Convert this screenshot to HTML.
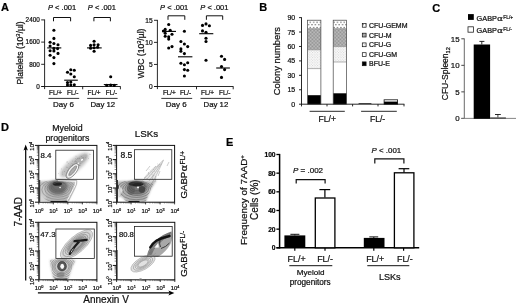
<!DOCTYPE html>
<html><head><meta charset="utf-8"><title>Figure</title>
<style>
html,body{margin:0;padding:0;background:#fff;}
body{width:520px;height:307px;overflow:hidden;}
svg{display:block;font-family:"Liberation Sans",Arial,sans-serif;}
text{stroke:#111;stroke-width:0.22px;}
</style></head><body>
<svg width="520" height="307" viewBox="0 0 520 307">
<rect width="520" height="307" fill="#fff"/>
<defs>
<pattern id="pGemm" width="3.4" height="5.2" patternUnits="userSpaceOnUse"><rect width="3.4" height="5.2" fill="#fff"/><rect x="0.1" y="0.9" width="1.6" height="1.0" fill="#6e6e6e"/><rect x="1.8" y="3.5" width="1.6" height="1.0" fill="#6e6e6e"/></pattern>
<pattern id="pM" width="1.4" height="1.4" patternUnits="userSpaceOnUse"><rect width="1.4" height="1.4" fill="#c4c4c4"/><rect width="0.7" height="0.7" fill="#8c8c8c"/><rect x="0.7" y="0.7" width="0.7" height="0.7" fill="#8c8c8c"/></pattern>
<pattern id="pG" width="2.6" height="2.6" patternUnits="userSpaceOnUse"><rect width="2.6" height="2.6" fill="#fbfbfb"/><rect x="0.2" y="0.2" width="0.8" height="0.8" fill="#bdbdbd"/><rect x="1.5" y="1.5" width="0.8" height="0.8" fill="#bdbdbd"/></pattern>
<filter id="b1" x="-30%" y="-30%" width="160%" height="160%"><feGaussianBlur stdDeviation="0.7"/></filter>
<filter id="b15" x="-30%" y="-30%" width="160%" height="160%"><feGaussianBlur stdDeviation="1.1"/></filter>
<filter id="b2" x="-30%" y="-30%" width="160%" height="160%"><feGaussianBlur stdDeviation="1.6"/></filter>
<clipPath id="c1"><rect x="38.8" y="145.4" width="58.10" height="56.80"/></clipPath>
<clipPath id="c2"><rect x="116.6" y="145.4" width="58.00" height="56.80"/></clipPath>
<clipPath id="c3"><rect x="38.8" y="222.3" width="58.10" height="57.50"/></clipPath>
<clipPath id="c4"><rect x="116.6" y="222.3" width="58.20" height="57.50"/></clipPath>
<clipPath id="k1"><path d="M39 181.5 L57 180.3 L76.5 181 L74 188.5 L67.5 202 L47.5 202 L40 193Z"/></clipPath><clipPath id="k2"><path d="M117 181.6 L136 180.6 L147 181 L156.5 180 L151 189 L145.5 202 L127 202 L121 196 L117 197Z"/></clipPath><clipPath id="k3"><path d="M49.8 260 L62 258.6 L75.6 260 L72 268 L68.2 279.5 L53.5 279.5 L51 268Z"/></clipPath></defs>
<text x="0.90" y="10.90" font-size="11.0" text-anchor="start" font-weight="bold" font-style="normal" fill="#000">A</text>
<text x="259.30" y="11.40" font-size="11.0" text-anchor="start" font-weight="bold" font-style="normal" fill="#000">B</text>
<text x="432.20" y="11.80" font-size="11.0" text-anchor="start" font-weight="bold" font-style="normal" fill="#000">C</text>
<text x="1.10" y="130.60" font-size="11.0" text-anchor="start" font-weight="bold" font-style="normal" fill="#000">D</text>
<text x="225.90" y="145.90" font-size="11.0" text-anchor="start" font-weight="bold" font-style="normal" fill="#000">E</text>
<line x1="44.60" y1="19.50" x2="44.60" y2="89.10" stroke="#111" stroke-width="0.9"/>
<line x1="41.20" y1="86.50" x2="44.60" y2="86.50" stroke="#111" stroke-width="0.9"/>
<text x="39.80" y="88.70" font-size="6.4" text-anchor="end" font-weight="normal" font-style="normal" fill="#111">0</text>
<line x1="41.20" y1="64.30" x2="44.60" y2="64.30" stroke="#111" stroke-width="0.9"/>
<text x="39.80" y="66.50" font-size="6.4" text-anchor="end" font-weight="normal" font-style="normal" fill="#111">800</text>
<line x1="41.20" y1="42.10" x2="44.60" y2="42.10" stroke="#111" stroke-width="0.9"/>
<text x="39.80" y="44.30" font-size="6.4" text-anchor="end" font-weight="normal" font-style="normal" fill="#111">1600</text>
<line x1="41.20" y1="19.90" x2="44.60" y2="19.90" stroke="#111" stroke-width="0.9"/>
<text x="39.80" y="22.10" font-size="6.4" text-anchor="end" font-weight="normal" font-style="normal" fill="#111">2400</text>
<line x1="41.40" y1="86.50" x2="120.60" y2="86.50" stroke="#111" stroke-width="0.9"/>
<line x1="82.70" y1="86.50" x2="82.70" y2="89.30" stroke="#111" stroke-width="0.9"/>
<line x1="120.40" y1="86.50" x2="120.40" y2="89.30" stroke="#111" stroke-width="0.9"/>
<text x="22.60" y="84.40" font-size="8.6" text-anchor="start" font-weight="normal" font-style="normal" fill="#111" transform="rotate(-90 22.60 84.40)">Platelets (10<tspan font-size="5.6" dy="-2.9">3</tspan><tspan dy="2.9">/µl)</tspan></text>
<text x="48.00" y="10.10" font-size="7.5" fill="#111"><tspan font-style="italic">P</tspan> &lt; .001</text>
<path d="M53.50 21.30V17.50H70.60V21.30" fill="none" stroke="#111" stroke-width="1.0"/>
<text x="87.80" y="10.10" font-size="7.5" fill="#111"><tspan font-style="italic">P</tspan> &lt; .001</text>
<path d="M93.90 21.30V17.50H110.40V21.30" fill="none" stroke="#111" stroke-width="1.0"/>
<circle cx="53.90" cy="30.30" r="1.55" fill="#000"/>
<circle cx="53.90" cy="38.40" r="1.55" fill="#000"/>
<circle cx="50.10" cy="42.20" r="1.55" fill="#000"/>
<circle cx="53.90" cy="43.50" r="1.55" fill="#000"/>
<circle cx="58.00" cy="44.70" r="1.55" fill="#000"/>
<circle cx="50.10" cy="46.00" r="1.55" fill="#000"/>
<circle cx="53.90" cy="48.40" r="1.55" fill="#000"/>
<circle cx="50.10" cy="50.80" r="1.55" fill="#000"/>
<circle cx="53.90" cy="50.90" r="1.55" fill="#000"/>
<circle cx="58.00" cy="53.40" r="1.55" fill="#000"/>
<circle cx="50.10" cy="55.30" r="1.55" fill="#000"/>
<circle cx="53.90" cy="57.60" r="1.55" fill="#000"/>
<circle cx="53.90" cy="63.60" r="1.55" fill="#000"/>
<circle cx="57.60" cy="48.60" r="1.55" fill="#000"/>
<line x1="47.20" y1="47.90" x2="61.30" y2="47.90" stroke="#000" stroke-width="1.1"/>
<circle cx="70.80" cy="69.70" r="1.55" fill="#000"/>
<circle cx="74.30" cy="70.20" r="1.55" fill="#000"/>
<circle cx="67.50" cy="72.20" r="1.55" fill="#000"/>
<circle cx="70.80" cy="74.00" r="1.55" fill="#000"/>
<circle cx="74.30" cy="76.80" r="1.55" fill="#000"/>
<circle cx="67.50" cy="82.60" r="1.55" fill="#000"/>
<circle cx="70.80" cy="82.10" r="1.55" fill="#000"/>
<circle cx="67.50" cy="85.00" r="1.55" fill="#000"/>
<circle cx="70.80" cy="85.00" r="1.55" fill="#000"/>
<circle cx="74.30" cy="84.80" r="1.55" fill="#000"/>
<line x1="64.20" y1="80.20" x2="77.80" y2="80.20" stroke="#000" stroke-width="1.1"/>
<circle cx="94.10" cy="41.20" r="1.55" fill="#000"/>
<circle cx="90.60" cy="45.40" r="1.55" fill="#000"/>
<circle cx="94.10" cy="44.70" r="1.55" fill="#000"/>
<circle cx="98.10" cy="44.70" r="1.55" fill="#000"/>
<circle cx="90.60" cy="48.20" r="1.55" fill="#000"/>
<circle cx="94.10" cy="47.70" r="1.55" fill="#000"/>
<circle cx="94.10" cy="51.30" r="1.55" fill="#000"/>
<circle cx="97.60" cy="47.20" r="1.55" fill="#000"/>
<line x1="87.00" y1="47.90" x2="101.70" y2="47.90" stroke="#000" stroke-width="1.1"/>
<circle cx="110.70" cy="76.80" r="1.55" fill="#000"/>
<circle cx="106.80" cy="85.40" r="1.55" fill="#000"/>
<circle cx="110.70" cy="85.10" r="1.55" fill="#000"/>
<circle cx="114.20" cy="85.40" r="1.55" fill="#000"/>
<line x1="103.80" y1="84.60" x2="117.50" y2="84.60" stroke="#000" stroke-width="1.1"/>
<text x="49.00" y="95.00" font-size="6.4" text-anchor="start" font-weight="normal" font-style="normal" fill="#111">FL/+</text>
<text x="67.00" y="95.00" font-size="6.4" text-anchor="start" font-weight="normal" font-style="normal" fill="#111">FL/-</text>
<text x="87.60" y="95.00" font-size="6.4" text-anchor="start" font-weight="normal" font-style="normal" fill="#111">FL/+</text>
<text x="105.80" y="95.00" font-size="6.4" text-anchor="start" font-weight="normal" font-style="normal" fill="#111">FL/-</text>
<line x1="48.40" y1="98.40" x2="79.20" y2="98.40" stroke="#000" stroke-width="0.8"/>
<line x1="87.20" y1="98.40" x2="117.60" y2="98.40" stroke="#000" stroke-width="0.8"/>
<text x="63.40" y="107.10" font-size="8.0" text-anchor="middle" font-weight="normal" font-style="normal" fill="#111">Day 6</text>
<text x="102.80" y="107.10" font-size="7.8" text-anchor="middle" font-weight="normal" font-style="normal" fill="#111">Day 12</text>
<line x1="157.40" y1="19.90" x2="157.40" y2="89.10" stroke="#111" stroke-width="0.9"/>
<line x1="154.00" y1="86.50" x2="157.40" y2="86.50" stroke="#111" stroke-width="0.9"/>
<text x="152.60" y="88.80" font-size="6.6" text-anchor="end" font-weight="normal" font-style="normal" fill="#111">0</text>
<line x1="154.00" y1="64.43" x2="157.40" y2="64.43" stroke="#111" stroke-width="0.9"/>
<text x="152.60" y="66.73" font-size="6.6" text-anchor="end" font-weight="normal" font-style="normal" fill="#111">5</text>
<line x1="154.00" y1="42.37" x2="157.40" y2="42.37" stroke="#111" stroke-width="0.9"/>
<text x="152.60" y="44.67" font-size="6.6" text-anchor="end" font-weight="normal" font-style="normal" fill="#111">10</text>
<line x1="154.00" y1="20.30" x2="157.40" y2="20.30" stroke="#111" stroke-width="0.9"/>
<text x="152.60" y="22.60" font-size="6.6" text-anchor="end" font-weight="normal" font-style="normal" fill="#111">15</text>
<line x1="154.20" y1="86.50" x2="233.40" y2="86.50" stroke="#111" stroke-width="0.9"/>
<line x1="196.50" y1="86.50" x2="196.50" y2="89.30" stroke="#111" stroke-width="0.9"/>
<line x1="233.20" y1="86.50" x2="233.20" y2="89.30" stroke="#111" stroke-width="0.9"/>
<text x="143.70" y="78.60" font-size="8.6" text-anchor="start" font-weight="normal" font-style="normal" fill="#111" transform="rotate(-90 143.70 78.60)">WBC (10<tspan font-size="5.6" dy="-2.9">3</tspan><tspan dy="2.9">/µl)</tspan></text>
<text x="160.10" y="10.10" font-size="7.5" fill="#111"><tspan font-style="italic">P</tspan> &lt; .001</text>
<path d="M168.00 19.80V15.80H184.80V19.80" fill="none" stroke="#111" stroke-width="1.0"/>
<text x="200.30" y="10.10" font-size="7.5" fill="#111"><tspan font-style="italic">P</tspan> &lt; .001</text>
<path d="M206.40 19.80V15.80H222.70V19.80" fill="none" stroke="#111" stroke-width="1.0"/>
<circle cx="168.70" cy="24.50" r="1.55" fill="#000"/>
<circle cx="165.20" cy="29.40" r="1.55" fill="#000"/>
<circle cx="170.20" cy="30.20" r="1.55" fill="#000"/>
<circle cx="165.20" cy="33.30" r="1.55" fill="#000"/>
<circle cx="172.00" cy="34.20" r="1.55" fill="#000"/>
<circle cx="165.20" cy="36.20" r="1.55" fill="#000"/>
<circle cx="168.70" cy="36.80" r="1.55" fill="#000"/>
<circle cx="168.70" cy="39.10" r="1.55" fill="#000"/>
<circle cx="168.70" cy="48.00" r="1.55" fill="#000"/>
<circle cx="172.00" cy="46.60" r="1.55" fill="#000"/>
<circle cx="163.40" cy="31.00" r="1.55" fill="#000"/>
<line x1="162.30" y1="31.40" x2="176.00" y2="31.40" stroke="#000" stroke-width="1.1"/>
<circle cx="184.40" cy="31.30" r="1.55" fill="#000"/>
<circle cx="180.90" cy="41.50" r="1.55" fill="#000"/>
<circle cx="184.40" cy="44.00" r="1.55" fill="#000"/>
<circle cx="187.70" cy="46.60" r="1.55" fill="#000"/>
<circle cx="180.90" cy="48.90" r="1.55" fill="#000"/>
<circle cx="180.90" cy="51.20" r="1.55" fill="#000"/>
<circle cx="184.40" cy="53.60" r="1.55" fill="#000"/>
<circle cx="180.90" cy="63.30" r="1.55" fill="#000"/>
<circle cx="187.70" cy="62.70" r="1.55" fill="#000"/>
<circle cx="184.40" cy="64.70" r="1.55" fill="#000"/>
<circle cx="184.40" cy="69.60" r="1.55" fill="#000"/>
<circle cx="187.70" cy="70.20" r="1.55" fill="#000"/>
<circle cx="184.40" cy="76.00" r="1.55" fill="#000"/>
<line x1="178.00" y1="56.80" x2="192.40" y2="56.80" stroke="#000" stroke-width="1.1"/>
<circle cx="202.50" cy="25.40" r="1.55" fill="#000"/>
<circle cx="206.00" cy="23.90" r="1.55" fill="#000"/>
<circle cx="209.40" cy="25.80" r="1.55" fill="#000"/>
<circle cx="202.50" cy="30.90" r="1.55" fill="#000"/>
<circle cx="206.00" cy="32.30" r="1.55" fill="#000"/>
<circle cx="206.00" cy="38.20" r="1.55" fill="#000"/>
<circle cx="206.00" cy="41.50" r="1.55" fill="#000"/>
<circle cx="206.00" cy="60.20" r="1.55" fill="#000"/>
<line x1="199.20" y1="33.70" x2="213.30" y2="33.70" stroke="#000" stroke-width="1.1"/>
<circle cx="221.50" cy="56.30" r="1.55" fill="#000"/>
<circle cx="224.60" cy="59.40" r="1.55" fill="#000"/>
<circle cx="221.50" cy="66.60" r="1.55" fill="#000"/>
<circle cx="224.60" cy="69.60" r="1.55" fill="#000"/>
<circle cx="221.50" cy="77.40" r="1.55" fill="#000"/>
<line x1="216.20" y1="68.00" x2="229.90" y2="68.00" stroke="#000" stroke-width="1.1"/>
<text x="162.90" y="95.00" font-size="6.4" text-anchor="start" font-weight="normal" font-style="normal" fill="#111">FL/+</text>
<text x="179.90" y="95.00" font-size="6.4" text-anchor="start" font-weight="normal" font-style="normal" fill="#111">FL/-</text>
<text x="201.10" y="95.00" font-size="6.4" text-anchor="start" font-weight="normal" font-style="normal" fill="#111">FL/+</text>
<text x="219.10" y="95.00" font-size="6.4" text-anchor="start" font-weight="normal" font-style="normal" fill="#111">FL/-</text>
<line x1="161.30" y1="98.40" x2="192.20" y2="98.40" stroke="#000" stroke-width="0.8"/>
<line x1="200.50" y1="98.40" x2="230.90" y2="98.40" stroke="#000" stroke-width="0.8"/>
<text x="176.20" y="107.10" font-size="8.0" text-anchor="middle" font-weight="normal" font-style="normal" fill="#111">Day 6</text>
<text x="215.90" y="107.10" font-size="7.8" text-anchor="middle" font-weight="normal" font-style="normal" fill="#111">Day 12</text>
<line x1="301.50" y1="17.30" x2="301.50" y2="106.40" stroke="#111" stroke-width="0.9"/>
<line x1="299.00" y1="104.20" x2="301.50" y2="104.20" stroke="#111" stroke-width="0.9"/>
<text x="295.20" y="106.70" font-size="7" text-anchor="end" font-weight="normal" font-style="normal" fill="#111" stroke="#111" stroke-width="0.25">0</text>
<line x1="299.00" y1="89.77" x2="301.50" y2="89.77" stroke="#111" stroke-width="0.9"/>
<text x="295.20" y="92.27" font-size="7" text-anchor="end" font-weight="normal" font-style="normal" fill="#111" stroke="#111" stroke-width="0.25">15</text>
<line x1="299.00" y1="75.33" x2="301.50" y2="75.33" stroke="#111" stroke-width="0.9"/>
<text x="295.20" y="77.83" font-size="7" text-anchor="end" font-weight="normal" font-style="normal" fill="#111" stroke="#111" stroke-width="0.25">30</text>
<line x1="299.00" y1="60.90" x2="301.50" y2="60.90" stroke="#111" stroke-width="0.9"/>
<text x="295.20" y="63.40" font-size="7" text-anchor="end" font-weight="normal" font-style="normal" fill="#111" stroke="#111" stroke-width="0.25">45</text>
<line x1="299.00" y1="46.47" x2="301.50" y2="46.47" stroke="#111" stroke-width="0.9"/>
<text x="295.20" y="48.97" font-size="7" text-anchor="end" font-weight="normal" font-style="normal" fill="#111" stroke="#111" stroke-width="0.25">60</text>
<line x1="299.00" y1="32.03" x2="301.50" y2="32.03" stroke="#111" stroke-width="0.9"/>
<text x="295.20" y="34.53" font-size="7" text-anchor="end" font-weight="normal" font-style="normal" fill="#111" stroke="#111" stroke-width="0.25">75</text>
<line x1="299.00" y1="17.60" x2="301.50" y2="17.60" stroke="#111" stroke-width="0.9"/>
<text x="295.20" y="20.10" font-size="7" text-anchor="end" font-weight="normal" font-style="normal" fill="#111" stroke="#111" stroke-width="0.25">90</text>
<line x1="301.50" y1="104.20" x2="404.40" y2="104.20" stroke="#111" stroke-width="0.9"/>
<line x1="327.00" y1="104.20" x2="327.00" y2="106.40" stroke="#111" stroke-width="0.9"/>
<line x1="352.60" y1="104.20" x2="352.60" y2="106.40" stroke="#111" stroke-width="0.9"/>
<line x1="378.00" y1="104.20" x2="378.00" y2="106.40" stroke="#111" stroke-width="0.9"/>
<line x1="404.00" y1="104.20" x2="404.00" y2="106.40" stroke="#111" stroke-width="0.9"/>
<text x="280.20" y="95.30" font-size="9.4" text-anchor="start" font-weight="normal" font-style="normal" fill="#111" transform="rotate(-90 280.20 95.30)">Colony numbers</text>
<rect x="307.6" y="20.2" width="13.30" height="8.50" fill="url(#pGemm)"/>
<rect x="307.6" y="28.7" width="13.30" height="21.10" fill="url(#pM)"/>
<rect x="307.6" y="49.8" width="13.30" height="18.80" fill="url(#pG)"/>
<rect x="307.6" y="68.6" width="13.30" height="26.60" fill="#fff"/>
<rect x="307.6" y="95.2" width="13.30" height="9.00" fill="#000"/>
<rect x="307.6" y="20.2" width="13.30" height="84.00" fill="none" stroke="#444" stroke-width="0.7"/>
<line x1="307.60" y1="28.70" x2="320.90" y2="28.70" stroke="#666" stroke-width="0.5"/>
<line x1="307.60" y1="49.80" x2="320.90" y2="49.80" stroke="#666" stroke-width="0.5"/>
<line x1="307.60" y1="68.60" x2="320.90" y2="68.60" stroke="#666" stroke-width="0.5"/>
<rect x="333.2" y="20.2" width="13.40" height="8.50" fill="url(#pGemm)"/>
<rect x="333.2" y="28.7" width="13.40" height="17.90" fill="url(#pM)"/>
<rect x="333.2" y="46.6" width="13.40" height="15.40" fill="url(#pG)"/>
<rect x="333.2" y="62.0" width="13.40" height="31.30" fill="#fff"/>
<rect x="333.2" y="93.3" width="13.40" height="10.90" fill="#000"/>
<rect x="333.2" y="20.2" width="13.40" height="84.00" fill="none" stroke="#444" stroke-width="0.7"/>
<line x1="333.20" y1="28.70" x2="346.60" y2="28.70" stroke="#666" stroke-width="0.5"/>
<line x1="333.20" y1="46.60" x2="346.60" y2="46.60" stroke="#666" stroke-width="0.5"/>
<line x1="333.20" y1="62.00" x2="346.60" y2="62.00" stroke="#666" stroke-width="0.5"/>
<line x1="358.60" y1="103.50" x2="371.40" y2="103.50" stroke="#222" stroke-width="0.8"/>
<rect x="384.1" y="99.8" width="13.5" height="4.4" fill="#fff" stroke="#111" stroke-width="0.8"/>
<rect x="384.1" y="101.6" width="13.5" height="2.6" fill="#000"/>
<line x1="309.60" y1="111.30" x2="344.80" y2="111.30" stroke="#111" stroke-width="0.9"/>
<line x1="361.10" y1="111.30" x2="396.80" y2="111.30" stroke="#111" stroke-width="0.9"/>
<text x="327.30" y="121.50" font-size="8.6" text-anchor="middle" font-weight="normal" font-style="normal" fill="#111">FL/+</text>
<text x="377.60" y="121.50" font-size="8.6" text-anchor="middle" font-weight="normal" font-style="normal" fill="#111">FL/-</text>
<rect x="362.3" y="23.400000000000002" width="3.8" height="3.8" fill="url(#pGemm)" stroke="#111" stroke-width="0.7"/>
<text x="369.00" y="27.70" font-size="7" text-anchor="start" font-weight="normal" font-style="normal" fill="#111" stroke="#111" stroke-width="0.3">CFU-GEMM</text>
<rect x="362.3" y="33.2" width="3.8" height="3.8" fill="url(#pM)" stroke="#111" stroke-width="0.7"/>
<text x="369.00" y="37.50" font-size="7" text-anchor="start" font-weight="normal" font-style="normal" fill="#111" stroke="#111" stroke-width="0.3">CFU-M</text>
<rect x="362.3" y="42.9" width="3.8" height="3.8" fill="url(#pG)" stroke="#111" stroke-width="0.7"/>
<text x="369.00" y="47.20" font-size="7" text-anchor="start" font-weight="normal" font-style="normal" fill="#111" stroke="#111" stroke-width="0.3">CFU-G</text>
<rect x="362.3" y="52.7" width="3.8" height="3.8" fill="#fff" stroke="#111" stroke-width="0.7"/>
<text x="369.00" y="56.70" font-size="7" text-anchor="start" font-weight="normal" font-style="normal" fill="#111" stroke="#111" stroke-width="0.3">CFU-GM</text>
<rect x="362.3" y="61.9" width="3.8" height="3.8" fill="#000" stroke="#111" stroke-width="0.7"/>
<text x="369.00" y="65.90" font-size="7" text-anchor="start" font-weight="normal" font-style="normal" fill="#111" stroke="#111" stroke-width="0.3">BFU-E</text>
<line x1="464.30" y1="38.50" x2="464.30" y2="118.40" stroke="#444" stroke-width="0.8"/>
<line x1="461.30" y1="118.40" x2="464.30" y2="118.40" stroke="#333" stroke-width="0.9"/>
<text x="459.60" y="121.20" font-size="7.9" text-anchor="end" font-weight="normal" font-style="normal" fill="#111">0</text>
<line x1="461.30" y1="91.87" x2="464.30" y2="91.87" stroke="#333" stroke-width="0.9"/>
<text x="459.60" y="94.67" font-size="7.9" text-anchor="end" font-weight="normal" font-style="normal" fill="#111">5</text>
<line x1="461.30" y1="65.33" x2="464.30" y2="65.33" stroke="#333" stroke-width="0.9"/>
<text x="459.60" y="68.13" font-size="7.9" text-anchor="end" font-weight="normal" font-style="normal" fill="#111">10</text>
<line x1="461.30" y1="38.80" x2="464.30" y2="38.80" stroke="#333" stroke-width="0.9"/>
<text x="459.60" y="41.60" font-size="7.9" text-anchor="end" font-weight="normal" font-style="normal" fill="#111">15</text>
<line x1="461.30" y1="118.40" x2="516.00" y2="118.40" stroke="#777" stroke-width="0.9"/>
<rect x="473.7" y="44.5" width="16.4" height="74.3" fill="#000"/>
<line x1="481.80" y1="41.40" x2="481.80" y2="44.50" stroke="#111" stroke-width="0.9"/>
<line x1="479.40" y1="41.40" x2="484.40" y2="41.40" stroke="#111" stroke-width="0.9"/>
<rect x="490.1" y="117.4" width="15.8" height="1.3" fill="#444"/>
<line x1="497.90" y1="114.50" x2="497.90" y2="117.40" stroke="#111" stroke-width="0.8"/>
<line x1="495.00" y1="114.50" x2="500.80" y2="114.50" stroke="#111" stroke-width="0.9"/>
<text x="448.10" y="100.20" font-size="8.5" text-anchor="start" font-weight="normal" font-style="normal" fill="#111" transform="rotate(-90 448.10 100.20)">CFU-Spleen<tspan font-size="5.6" dy="1.9">12</tspan></text>
<rect x="468.0" y="14.1" width="5.8" height="5.8" fill="#000"/>
<rect x="468.0" y="26.8" width="5.4" height="5.4" fill="#fff" stroke="#222" stroke-width="0.8"/>
<g>
<text x="476.60" y="20.50" font-size="7.3" fill="#111">GABP</text>
<text transform="translate(496.99 20.50) scale(1.2 1)" font-size="7.59" font-family="DejaVu Sans, sans-serif" fill="#111" stroke="none">α</text>
<text x="503.29" y="18.78" font-size="4.89" fill="#111">FL/+</text>
</g>
<g>
<text x="476.60" y="32.70" font-size="7.3" fill="#111">GABP</text>
<text transform="translate(496.99 32.70) scale(1.2 1)" font-size="7.59" font-family="DejaVu Sans, sans-serif" fill="#111" stroke="none">α</text>
<text x="503.29" y="30.98" font-size="4.89" fill="#111">FL/-</text>
</g>
<line x1="279.60" y1="153.90" x2="279.60" y2="248.50" stroke="#000" stroke-width="1.5"/>
<line x1="276.40" y1="247.80" x2="279.60" y2="247.80" stroke="#000" stroke-width="1.3"/>
<text x="275.60" y="250.20" font-size="6.7" text-anchor="end" font-weight="bold" font-style="normal" fill="#000">0</text>
<line x1="276.40" y1="229.14" x2="279.60" y2="229.14" stroke="#000" stroke-width="1.3"/>
<text x="275.60" y="231.54" font-size="6.7" text-anchor="end" font-weight="bold" font-style="normal" fill="#000">20</text>
<line x1="276.40" y1="210.48" x2="279.60" y2="210.48" stroke="#000" stroke-width="1.3"/>
<text x="275.60" y="212.88" font-size="6.7" text-anchor="end" font-weight="bold" font-style="normal" fill="#000">40</text>
<line x1="276.40" y1="191.82" x2="279.60" y2="191.82" stroke="#000" stroke-width="1.3"/>
<text x="275.60" y="194.22" font-size="6.7" text-anchor="end" font-weight="bold" font-style="normal" fill="#000">60</text>
<line x1="276.40" y1="173.16" x2="279.60" y2="173.16" stroke="#000" stroke-width="1.3"/>
<text x="275.60" y="175.56" font-size="6.7" text-anchor="end" font-weight="bold" font-style="normal" fill="#000">80</text>
<line x1="276.40" y1="154.50" x2="279.60" y2="154.50" stroke="#000" stroke-width="1.3"/>
<text x="275.60" y="156.90" font-size="6.7" text-anchor="end" font-weight="bold" font-style="normal" fill="#000">100</text>
<line x1="276.40" y1="247.80" x2="419.20" y2="247.80" stroke="#000" stroke-width="1.5"/>
<line x1="294.80" y1="247.80" x2="294.80" y2="250.80" stroke="#000" stroke-width="1.2"/>
<line x1="325.00" y1="247.80" x2="325.00" y2="250.80" stroke="#000" stroke-width="1.2"/>
<line x1="373.80" y1="247.80" x2="373.80" y2="250.80" stroke="#000" stroke-width="1.2"/>
<line x1="403.60" y1="247.80" x2="403.60" y2="250.80" stroke="#000" stroke-width="1.2"/>
<rect x="284.4" y="235.4" width="20.9" height="12.4" fill="#000"/>
<line x1="294.80" y1="234.30" x2="294.80" y2="235.40" stroke="#111" stroke-width="1"/>
<line x1="290.40" y1="234.30" x2="299.40" y2="234.30" stroke="#111" stroke-width="1"/>
<rect x="315.3" y="198.0" width="19.6" height="49.8" fill="#fff" stroke="#000" stroke-width="1.3"/>
<line x1="324.90" y1="189.60" x2="324.90" y2="197.60" stroke="#000" stroke-width="1.2"/>
<line x1="319.40" y1="189.60" x2="330.20" y2="189.60" stroke="#000" stroke-width="1.2"/>
<rect x="363.8" y="237.9" width="20.7" height="9.9" fill="#000"/>
<line x1="373.80" y1="236.90" x2="373.80" y2="238.00" stroke="#111" stroke-width="1"/>
<line x1="369.30" y1="236.90" x2="378.20" y2="236.90" stroke="#111" stroke-width="1"/>
<rect x="394.4" y="172.8" width="19.5" height="75.0" fill="#fff" stroke="#000" stroke-width="1.3"/>
<line x1="404.00" y1="168.70" x2="404.00" y2="172.40" stroke="#000" stroke-width="1.2"/>
<line x1="398.60" y1="168.70" x2="409.30" y2="168.70" stroke="#000" stroke-width="1.2"/>
<text x="293.00" y="173.40" font-size="8.0" fill="#111"><tspan font-style="italic">P</tspan> = .002</text>
<path d="M296.20 183.60V179.60H325.10V183.60" fill="none" stroke="#111" stroke-width="1.2"/>
<text x="371.60" y="153.00" font-size="7.9" fill="#111"><tspan font-style="italic">P</tspan> &lt; .001</text>
<path d="M374.80 163.40V158.90H403.90V163.40" fill="none" stroke="#111" stroke-width="1.2"/>
<text x="287.60" y="262.00" font-size="8.9" text-anchor="start" font-weight="normal" font-style="normal" fill="#111">FL/+</text>
<text x="317.20" y="262.00" font-size="8.9" text-anchor="start" font-weight="normal" font-style="normal" fill="#111">FL/-</text>
<text x="366.20" y="262.00" font-size="8.9" text-anchor="start" font-weight="normal" font-style="normal" fill="#111">FL/+</text>
<text x="397.00" y="262.00" font-size="8.9" text-anchor="start" font-weight="normal" font-style="normal" fill="#111">FL/-</text>
<line x1="289.30" y1="265.70" x2="332.30" y2="265.70" stroke="#111" stroke-width="1.0"/>
<line x1="367.30" y1="265.70" x2="409.30" y2="265.70" stroke="#111" stroke-width="1.0"/>
<text x="310.60" y="275.30" font-size="8.1" text-anchor="middle" font-weight="normal" font-style="normal" fill="#111">Myeloid</text>
<text x="310.20" y="285.10" font-size="8.2" text-anchor="middle" font-weight="normal" font-style="normal" fill="#111">progenitors</text>
<text x="389.80" y="280.30" font-size="9.1" text-anchor="middle" font-weight="normal" font-style="normal" fill="#111">LSKs</text>
<text x="246.90" y="244.90" font-size="9.9" text-anchor="start" font-weight="normal" font-style="normal" fill="#111" transform="rotate(-90 246.90 244.90)">Frequency of 7AAD<tspan font-size="6.2" dy="-3.4">+</tspan></text>
<text x="258.50" y="219.90" font-size="10.0" text-anchor="start" font-weight="normal" font-style="normal" fill="#111" transform="rotate(-90 258.50 219.90)">Cells (%)</text>
<rect x="38.8" y="145.4" width="58.10" height="56.80" fill="none" stroke="#111" stroke-width="1.0"/>
<line x1="38.80" y1="202.20" x2="38.80" y2="204.40" stroke="#111" stroke-width="0.8"/>
<text x="39.10" y="212.80" font-size="5.9" text-anchor="middle" font-weight="normal" font-style="normal" fill="#111">10<tspan font-size="3.8" dy="-2.2">0</tspan></text>
<line x1="35.00" y1="202.20" x2="38.80" y2="202.20" stroke="#111" stroke-width="1.0"/>
<text x="33.80" y="203.10" font-size="5.9" text-anchor="middle" font-weight="normal" font-style="normal" fill="#111" transform="rotate(-90 33.80 203.10)">10<tspan font-size="3.8" dy="-2.2">0</tspan></text>
<line x1="43.17" y1="202.20" x2="43.17" y2="203.50" stroke="#333" stroke-width="0.45"/>
<line x1="36.80" y1="197.93" x2="38.80" y2="197.93" stroke="#222" stroke-width="0.55"/>
<line x1="45.73" y1="202.20" x2="45.73" y2="203.50" stroke="#333" stroke-width="0.45"/>
<line x1="36.80" y1="195.42" x2="38.80" y2="195.42" stroke="#222" stroke-width="0.55"/>
<line x1="47.54" y1="202.20" x2="47.54" y2="203.50" stroke="#333" stroke-width="0.45"/>
<line x1="36.80" y1="193.65" x2="38.80" y2="193.65" stroke="#222" stroke-width="0.55"/>
<line x1="48.95" y1="202.20" x2="48.95" y2="203.50" stroke="#333" stroke-width="0.45"/>
<line x1="36.80" y1="192.27" x2="38.80" y2="192.27" stroke="#222" stroke-width="0.55"/>
<line x1="50.10" y1="202.20" x2="50.10" y2="203.50" stroke="#333" stroke-width="0.45"/>
<line x1="36.80" y1="191.15" x2="38.80" y2="191.15" stroke="#222" stroke-width="0.55"/>
<line x1="51.08" y1="202.20" x2="51.08" y2="203.50" stroke="#333" stroke-width="0.45"/>
<line x1="36.80" y1="190.20" x2="38.80" y2="190.20" stroke="#222" stroke-width="0.55"/>
<line x1="51.92" y1="202.20" x2="51.92" y2="203.50" stroke="#333" stroke-width="0.45"/>
<line x1="36.80" y1="189.38" x2="38.80" y2="189.38" stroke="#222" stroke-width="0.55"/>
<line x1="52.66" y1="202.20" x2="52.66" y2="203.50" stroke="#333" stroke-width="0.45"/>
<line x1="36.80" y1="188.65" x2="38.80" y2="188.65" stroke="#222" stroke-width="0.55"/>
<line x1="53.33" y1="202.20" x2="53.33" y2="204.40" stroke="#111" stroke-width="0.8"/>
<text x="53.62" y="212.80" font-size="5.9" text-anchor="middle" font-weight="normal" font-style="normal" fill="#111">10<tspan font-size="3.8" dy="-2.2">1</tspan></text>
<line x1="35.00" y1="188.00" x2="38.80" y2="188.00" stroke="#111" stroke-width="1.0"/>
<text x="33.80" y="188.90" font-size="5.9" text-anchor="middle" font-weight="normal" font-style="normal" fill="#111" transform="rotate(-90 33.80 188.90)">10<tspan font-size="3.8" dy="-2.2">1</tspan></text>
<line x1="57.70" y1="202.20" x2="57.70" y2="203.50" stroke="#333" stroke-width="0.45"/>
<line x1="36.80" y1="183.73" x2="38.80" y2="183.73" stroke="#222" stroke-width="0.55"/>
<line x1="60.26" y1="202.20" x2="60.26" y2="203.50" stroke="#333" stroke-width="0.45"/>
<line x1="36.80" y1="181.22" x2="38.80" y2="181.22" stroke="#222" stroke-width="0.55"/>
<line x1="62.07" y1="202.20" x2="62.07" y2="203.50" stroke="#333" stroke-width="0.45"/>
<line x1="36.80" y1="179.45" x2="38.80" y2="179.45" stroke="#222" stroke-width="0.55"/>
<line x1="63.48" y1="202.20" x2="63.48" y2="203.50" stroke="#333" stroke-width="0.45"/>
<line x1="36.80" y1="178.07" x2="38.80" y2="178.07" stroke="#222" stroke-width="0.55"/>
<line x1="64.63" y1="202.20" x2="64.63" y2="203.50" stroke="#333" stroke-width="0.45"/>
<line x1="36.80" y1="176.95" x2="38.80" y2="176.95" stroke="#222" stroke-width="0.55"/>
<line x1="65.60" y1="202.20" x2="65.60" y2="203.50" stroke="#333" stroke-width="0.45"/>
<line x1="36.80" y1="176.00" x2="38.80" y2="176.00" stroke="#222" stroke-width="0.55"/>
<line x1="66.44" y1="202.20" x2="66.44" y2="203.50" stroke="#333" stroke-width="0.45"/>
<line x1="36.80" y1="175.18" x2="38.80" y2="175.18" stroke="#222" stroke-width="0.55"/>
<line x1="67.19" y1="202.20" x2="67.19" y2="203.50" stroke="#333" stroke-width="0.45"/>
<line x1="36.80" y1="174.45" x2="38.80" y2="174.45" stroke="#222" stroke-width="0.55"/>
<line x1="67.85" y1="202.20" x2="67.85" y2="204.40" stroke="#111" stroke-width="0.8"/>
<text x="68.15" y="212.80" font-size="5.9" text-anchor="middle" font-weight="normal" font-style="normal" fill="#111">10<tspan font-size="3.8" dy="-2.2">2</tspan></text>
<line x1="35.00" y1="173.80" x2="38.80" y2="173.80" stroke="#111" stroke-width="1.0"/>
<text x="33.80" y="174.70" font-size="5.9" text-anchor="middle" font-weight="normal" font-style="normal" fill="#111" transform="rotate(-90 33.80 174.70)">10<tspan font-size="3.8" dy="-2.2">2</tspan></text>
<line x1="72.22" y1="202.20" x2="72.22" y2="203.50" stroke="#333" stroke-width="0.45"/>
<line x1="36.80" y1="169.53" x2="38.80" y2="169.53" stroke="#222" stroke-width="0.55"/>
<line x1="74.78" y1="202.20" x2="74.78" y2="203.50" stroke="#333" stroke-width="0.45"/>
<line x1="36.80" y1="167.02" x2="38.80" y2="167.02" stroke="#222" stroke-width="0.55"/>
<line x1="76.59" y1="202.20" x2="76.59" y2="203.50" stroke="#333" stroke-width="0.45"/>
<line x1="36.80" y1="165.25" x2="38.80" y2="165.25" stroke="#222" stroke-width="0.55"/>
<line x1="78.00" y1="202.20" x2="78.00" y2="203.50" stroke="#333" stroke-width="0.45"/>
<line x1="36.80" y1="163.87" x2="38.80" y2="163.87" stroke="#222" stroke-width="0.55"/>
<line x1="79.15" y1="202.20" x2="79.15" y2="203.50" stroke="#333" stroke-width="0.45"/>
<line x1="36.80" y1="162.75" x2="38.80" y2="162.75" stroke="#222" stroke-width="0.55"/>
<line x1="80.13" y1="202.20" x2="80.13" y2="203.50" stroke="#333" stroke-width="0.45"/>
<line x1="36.80" y1="161.80" x2="38.80" y2="161.80" stroke="#222" stroke-width="0.55"/>
<line x1="80.97" y1="202.20" x2="80.97" y2="203.50" stroke="#333" stroke-width="0.45"/>
<line x1="36.80" y1="160.98" x2="38.80" y2="160.98" stroke="#222" stroke-width="0.55"/>
<line x1="81.71" y1="202.20" x2="81.71" y2="203.50" stroke="#333" stroke-width="0.45"/>
<line x1="36.80" y1="160.25" x2="38.80" y2="160.25" stroke="#222" stroke-width="0.55"/>
<line x1="82.38" y1="202.20" x2="82.38" y2="204.40" stroke="#111" stroke-width="0.8"/>
<text x="82.67" y="212.80" font-size="5.9" text-anchor="middle" font-weight="normal" font-style="normal" fill="#111">10<tspan font-size="3.8" dy="-2.2">3</tspan></text>
<line x1="35.00" y1="159.60" x2="38.80" y2="159.60" stroke="#111" stroke-width="1.0"/>
<text x="33.80" y="160.50" font-size="5.9" text-anchor="middle" font-weight="normal" font-style="normal" fill="#111" transform="rotate(-90 33.80 160.50)">10<tspan font-size="3.8" dy="-2.2">3</tspan></text>
<line x1="86.75" y1="202.20" x2="86.75" y2="203.50" stroke="#333" stroke-width="0.45"/>
<line x1="36.80" y1="155.33" x2="38.80" y2="155.33" stroke="#222" stroke-width="0.55"/>
<line x1="89.31" y1="202.20" x2="89.31" y2="203.50" stroke="#333" stroke-width="0.45"/>
<line x1="36.80" y1="152.82" x2="38.80" y2="152.82" stroke="#222" stroke-width="0.55"/>
<line x1="91.12" y1="202.20" x2="91.12" y2="203.50" stroke="#333" stroke-width="0.45"/>
<line x1="36.80" y1="151.05" x2="38.80" y2="151.05" stroke="#222" stroke-width="0.55"/>
<line x1="92.53" y1="202.20" x2="92.53" y2="203.50" stroke="#333" stroke-width="0.45"/>
<line x1="36.80" y1="149.67" x2="38.80" y2="149.67" stroke="#222" stroke-width="0.55"/>
<line x1="93.68" y1="202.20" x2="93.68" y2="203.50" stroke="#333" stroke-width="0.45"/>
<line x1="36.80" y1="148.55" x2="38.80" y2="148.55" stroke="#222" stroke-width="0.55"/>
<line x1="94.65" y1="202.20" x2="94.65" y2="203.50" stroke="#333" stroke-width="0.45"/>
<line x1="36.80" y1="147.60" x2="38.80" y2="147.60" stroke="#222" stroke-width="0.55"/>
<line x1="95.49" y1="202.20" x2="95.49" y2="203.50" stroke="#333" stroke-width="0.45"/>
<line x1="36.80" y1="146.78" x2="38.80" y2="146.78" stroke="#222" stroke-width="0.55"/>
<line x1="96.24" y1="202.20" x2="96.24" y2="203.50" stroke="#333" stroke-width="0.45"/>
<line x1="36.80" y1="146.05" x2="38.80" y2="146.05" stroke="#222" stroke-width="0.55"/>
<line x1="96.90" y1="202.20" x2="96.90" y2="204.40" stroke="#111" stroke-width="0.8"/>
<text x="97.20" y="212.80" font-size="5.9" text-anchor="middle" font-weight="normal" font-style="normal" fill="#111">10<tspan font-size="3.8" dy="-2.2">4</tspan></text>
<line x1="35.00" y1="145.40" x2="38.80" y2="145.40" stroke="#111" stroke-width="1.0"/>
<text x="33.80" y="146.30" font-size="5.9" text-anchor="middle" font-weight="normal" font-style="normal" fill="#111" transform="rotate(-90 33.80 146.30)">10<tspan font-size="3.8" dy="-2.2">4</tspan></text>
<rect x="116.6" y="145.4" width="58.00" height="56.80" fill="none" stroke="#111" stroke-width="1.0"/>
<line x1="116.60" y1="202.20" x2="116.60" y2="204.40" stroke="#111" stroke-width="0.8"/>
<text x="116.90" y="212.80" font-size="5.9" text-anchor="middle" font-weight="normal" font-style="normal" fill="#111">10<tspan font-size="3.8" dy="-2.2">0</tspan></text>
<line x1="112.80" y1="202.20" x2="116.60" y2="202.20" stroke="#111" stroke-width="1.0"/>
<text x="111.60" y="203.10" font-size="5.9" text-anchor="middle" font-weight="normal" font-style="normal" fill="#111" transform="rotate(-90 111.60 203.10)">10<tspan font-size="3.8" dy="-2.2">0</tspan></text>
<line x1="120.96" y1="202.20" x2="120.96" y2="203.50" stroke="#333" stroke-width="0.45"/>
<line x1="114.60" y1="197.93" x2="116.60" y2="197.93" stroke="#222" stroke-width="0.55"/>
<line x1="123.52" y1="202.20" x2="123.52" y2="203.50" stroke="#333" stroke-width="0.45"/>
<line x1="114.60" y1="195.42" x2="116.60" y2="195.42" stroke="#222" stroke-width="0.55"/>
<line x1="125.33" y1="202.20" x2="125.33" y2="203.50" stroke="#333" stroke-width="0.45"/>
<line x1="114.60" y1="193.65" x2="116.60" y2="193.65" stroke="#222" stroke-width="0.55"/>
<line x1="126.74" y1="202.20" x2="126.74" y2="203.50" stroke="#333" stroke-width="0.45"/>
<line x1="114.60" y1="192.27" x2="116.60" y2="192.27" stroke="#222" stroke-width="0.55"/>
<line x1="127.88" y1="202.20" x2="127.88" y2="203.50" stroke="#333" stroke-width="0.45"/>
<line x1="114.60" y1="191.15" x2="116.60" y2="191.15" stroke="#222" stroke-width="0.55"/>
<line x1="128.85" y1="202.20" x2="128.85" y2="203.50" stroke="#333" stroke-width="0.45"/>
<line x1="114.60" y1="190.20" x2="116.60" y2="190.20" stroke="#222" stroke-width="0.55"/>
<line x1="129.69" y1="202.20" x2="129.69" y2="203.50" stroke="#333" stroke-width="0.45"/>
<line x1="114.60" y1="189.38" x2="116.60" y2="189.38" stroke="#222" stroke-width="0.55"/>
<line x1="130.44" y1="202.20" x2="130.44" y2="203.50" stroke="#333" stroke-width="0.45"/>
<line x1="114.60" y1="188.65" x2="116.60" y2="188.65" stroke="#222" stroke-width="0.55"/>
<line x1="131.10" y1="202.20" x2="131.10" y2="204.40" stroke="#111" stroke-width="0.8"/>
<text x="131.40" y="212.80" font-size="5.9" text-anchor="middle" font-weight="normal" font-style="normal" fill="#111">10<tspan font-size="3.8" dy="-2.2">1</tspan></text>
<line x1="112.80" y1="188.00" x2="116.60" y2="188.00" stroke="#111" stroke-width="1.0"/>
<text x="111.60" y="188.90" font-size="5.9" text-anchor="middle" font-weight="normal" font-style="normal" fill="#111" transform="rotate(-90 111.60 188.90)">10<tspan font-size="3.8" dy="-2.2">1</tspan></text>
<line x1="135.46" y1="202.20" x2="135.46" y2="203.50" stroke="#333" stroke-width="0.45"/>
<line x1="114.60" y1="183.73" x2="116.60" y2="183.73" stroke="#222" stroke-width="0.55"/>
<line x1="138.02" y1="202.20" x2="138.02" y2="203.50" stroke="#333" stroke-width="0.45"/>
<line x1="114.60" y1="181.22" x2="116.60" y2="181.22" stroke="#222" stroke-width="0.55"/>
<line x1="139.83" y1="202.20" x2="139.83" y2="203.50" stroke="#333" stroke-width="0.45"/>
<line x1="114.60" y1="179.45" x2="116.60" y2="179.45" stroke="#222" stroke-width="0.55"/>
<line x1="141.24" y1="202.20" x2="141.24" y2="203.50" stroke="#333" stroke-width="0.45"/>
<line x1="114.60" y1="178.07" x2="116.60" y2="178.07" stroke="#222" stroke-width="0.55"/>
<line x1="142.38" y1="202.20" x2="142.38" y2="203.50" stroke="#333" stroke-width="0.45"/>
<line x1="114.60" y1="176.95" x2="116.60" y2="176.95" stroke="#222" stroke-width="0.55"/>
<line x1="143.35" y1="202.20" x2="143.35" y2="203.50" stroke="#333" stroke-width="0.45"/>
<line x1="114.60" y1="176.00" x2="116.60" y2="176.00" stroke="#222" stroke-width="0.55"/>
<line x1="144.19" y1="202.20" x2="144.19" y2="203.50" stroke="#333" stroke-width="0.45"/>
<line x1="114.60" y1="175.18" x2="116.60" y2="175.18" stroke="#222" stroke-width="0.55"/>
<line x1="144.94" y1="202.20" x2="144.94" y2="203.50" stroke="#333" stroke-width="0.45"/>
<line x1="114.60" y1="174.45" x2="116.60" y2="174.45" stroke="#222" stroke-width="0.55"/>
<line x1="145.60" y1="202.20" x2="145.60" y2="204.40" stroke="#111" stroke-width="0.8"/>
<text x="145.90" y="212.80" font-size="5.9" text-anchor="middle" font-weight="normal" font-style="normal" fill="#111">10<tspan font-size="3.8" dy="-2.2">2</tspan></text>
<line x1="112.80" y1="173.80" x2="116.60" y2="173.80" stroke="#111" stroke-width="1.0"/>
<text x="111.60" y="174.70" font-size="5.9" text-anchor="middle" font-weight="normal" font-style="normal" fill="#111" transform="rotate(-90 111.60 174.70)">10<tspan font-size="3.8" dy="-2.2">2</tspan></text>
<line x1="149.96" y1="202.20" x2="149.96" y2="203.50" stroke="#333" stroke-width="0.45"/>
<line x1="114.60" y1="169.53" x2="116.60" y2="169.53" stroke="#222" stroke-width="0.55"/>
<line x1="152.52" y1="202.20" x2="152.52" y2="203.50" stroke="#333" stroke-width="0.45"/>
<line x1="114.60" y1="167.02" x2="116.60" y2="167.02" stroke="#222" stroke-width="0.55"/>
<line x1="154.33" y1="202.20" x2="154.33" y2="203.50" stroke="#333" stroke-width="0.45"/>
<line x1="114.60" y1="165.25" x2="116.60" y2="165.25" stroke="#222" stroke-width="0.55"/>
<line x1="155.74" y1="202.20" x2="155.74" y2="203.50" stroke="#333" stroke-width="0.45"/>
<line x1="114.60" y1="163.87" x2="116.60" y2="163.87" stroke="#222" stroke-width="0.55"/>
<line x1="156.88" y1="202.20" x2="156.88" y2="203.50" stroke="#333" stroke-width="0.45"/>
<line x1="114.60" y1="162.75" x2="116.60" y2="162.75" stroke="#222" stroke-width="0.55"/>
<line x1="157.85" y1="202.20" x2="157.85" y2="203.50" stroke="#333" stroke-width="0.45"/>
<line x1="114.60" y1="161.80" x2="116.60" y2="161.80" stroke="#222" stroke-width="0.55"/>
<line x1="158.69" y1="202.20" x2="158.69" y2="203.50" stroke="#333" stroke-width="0.45"/>
<line x1="114.60" y1="160.98" x2="116.60" y2="160.98" stroke="#222" stroke-width="0.55"/>
<line x1="159.44" y1="202.20" x2="159.44" y2="203.50" stroke="#333" stroke-width="0.45"/>
<line x1="114.60" y1="160.25" x2="116.60" y2="160.25" stroke="#222" stroke-width="0.55"/>
<line x1="160.10" y1="202.20" x2="160.10" y2="204.40" stroke="#111" stroke-width="0.8"/>
<text x="160.40" y="212.80" font-size="5.9" text-anchor="middle" font-weight="normal" font-style="normal" fill="#111">10<tspan font-size="3.8" dy="-2.2">3</tspan></text>
<line x1="112.80" y1="159.60" x2="116.60" y2="159.60" stroke="#111" stroke-width="1.0"/>
<text x="111.60" y="160.50" font-size="5.9" text-anchor="middle" font-weight="normal" font-style="normal" fill="#111" transform="rotate(-90 111.60 160.50)">10<tspan font-size="3.8" dy="-2.2">3</tspan></text>
<line x1="164.46" y1="202.20" x2="164.46" y2="203.50" stroke="#333" stroke-width="0.45"/>
<line x1="114.60" y1="155.33" x2="116.60" y2="155.33" stroke="#222" stroke-width="0.55"/>
<line x1="167.02" y1="202.20" x2="167.02" y2="203.50" stroke="#333" stroke-width="0.45"/>
<line x1="114.60" y1="152.82" x2="116.60" y2="152.82" stroke="#222" stroke-width="0.55"/>
<line x1="168.83" y1="202.20" x2="168.83" y2="203.50" stroke="#333" stroke-width="0.45"/>
<line x1="114.60" y1="151.05" x2="116.60" y2="151.05" stroke="#222" stroke-width="0.55"/>
<line x1="170.24" y1="202.20" x2="170.24" y2="203.50" stroke="#333" stroke-width="0.45"/>
<line x1="114.60" y1="149.67" x2="116.60" y2="149.67" stroke="#222" stroke-width="0.55"/>
<line x1="171.38" y1="202.20" x2="171.38" y2="203.50" stroke="#333" stroke-width="0.45"/>
<line x1="114.60" y1="148.55" x2="116.60" y2="148.55" stroke="#222" stroke-width="0.55"/>
<line x1="172.35" y1="202.20" x2="172.35" y2="203.50" stroke="#333" stroke-width="0.45"/>
<line x1="114.60" y1="147.60" x2="116.60" y2="147.60" stroke="#222" stroke-width="0.55"/>
<line x1="173.19" y1="202.20" x2="173.19" y2="203.50" stroke="#333" stroke-width="0.45"/>
<line x1="114.60" y1="146.78" x2="116.60" y2="146.78" stroke="#222" stroke-width="0.55"/>
<line x1="173.94" y1="202.20" x2="173.94" y2="203.50" stroke="#333" stroke-width="0.45"/>
<line x1="114.60" y1="146.05" x2="116.60" y2="146.05" stroke="#222" stroke-width="0.55"/>
<line x1="174.60" y1="202.20" x2="174.60" y2="204.40" stroke="#111" stroke-width="0.8"/>
<text x="174.90" y="212.80" font-size="5.9" text-anchor="middle" font-weight="normal" font-style="normal" fill="#111">10<tspan font-size="3.8" dy="-2.2">4</tspan></text>
<line x1="112.80" y1="145.40" x2="116.60" y2="145.40" stroke="#111" stroke-width="1.0"/>
<text x="111.60" y="146.30" font-size="5.9" text-anchor="middle" font-weight="normal" font-style="normal" fill="#111" transform="rotate(-90 111.60 146.30)">10<tspan font-size="3.8" dy="-2.2">4</tspan></text>
<rect x="38.8" y="222.3" width="58.10" height="57.50" fill="none" stroke="#111" stroke-width="1.0"/>
<line x1="38.80" y1="279.80" x2="38.80" y2="282.00" stroke="#111" stroke-width="0.8"/>
<text x="39.10" y="290.40" font-size="5.9" text-anchor="middle" font-weight="normal" font-style="normal" fill="#111">10<tspan font-size="3.8" dy="-2.2">0</tspan></text>
<line x1="35.00" y1="279.80" x2="38.80" y2="279.80" stroke="#111" stroke-width="1.0"/>
<text x="33.80" y="280.70" font-size="5.9" text-anchor="middle" font-weight="normal" font-style="normal" fill="#111" transform="rotate(-90 33.80 280.70)">10<tspan font-size="3.8" dy="-2.2">0</tspan></text>
<line x1="43.17" y1="279.80" x2="43.17" y2="281.10" stroke="#333" stroke-width="0.45"/>
<line x1="36.80" y1="275.47" x2="38.80" y2="275.47" stroke="#222" stroke-width="0.55"/>
<line x1="45.73" y1="279.80" x2="45.73" y2="281.10" stroke="#333" stroke-width="0.45"/>
<line x1="36.80" y1="272.94" x2="38.80" y2="272.94" stroke="#222" stroke-width="0.55"/>
<line x1="47.54" y1="279.80" x2="47.54" y2="281.10" stroke="#333" stroke-width="0.45"/>
<line x1="36.80" y1="271.15" x2="38.80" y2="271.15" stroke="#222" stroke-width="0.55"/>
<line x1="48.95" y1="279.80" x2="48.95" y2="281.10" stroke="#333" stroke-width="0.45"/>
<line x1="36.80" y1="269.75" x2="38.80" y2="269.75" stroke="#222" stroke-width="0.55"/>
<line x1="50.10" y1="279.80" x2="50.10" y2="281.10" stroke="#333" stroke-width="0.45"/>
<line x1="36.80" y1="268.61" x2="38.80" y2="268.61" stroke="#222" stroke-width="0.55"/>
<line x1="51.08" y1="279.80" x2="51.08" y2="281.10" stroke="#333" stroke-width="0.45"/>
<line x1="36.80" y1="267.65" x2="38.80" y2="267.65" stroke="#222" stroke-width="0.55"/>
<line x1="51.92" y1="279.80" x2="51.92" y2="281.10" stroke="#333" stroke-width="0.45"/>
<line x1="36.80" y1="266.82" x2="38.80" y2="266.82" stroke="#222" stroke-width="0.55"/>
<line x1="52.66" y1="279.80" x2="52.66" y2="281.10" stroke="#333" stroke-width="0.45"/>
<line x1="36.80" y1="266.08" x2="38.80" y2="266.08" stroke="#222" stroke-width="0.55"/>
<line x1="53.33" y1="279.80" x2="53.33" y2="282.00" stroke="#111" stroke-width="0.8"/>
<text x="53.62" y="290.40" font-size="5.9" text-anchor="middle" font-weight="normal" font-style="normal" fill="#111">10<tspan font-size="3.8" dy="-2.2">1</tspan></text>
<line x1="35.00" y1="265.43" x2="38.80" y2="265.43" stroke="#111" stroke-width="1.0"/>
<text x="33.80" y="266.32" font-size="5.9" text-anchor="middle" font-weight="normal" font-style="normal" fill="#111" transform="rotate(-90 33.80 266.32)">10<tspan font-size="3.8" dy="-2.2">1</tspan></text>
<line x1="57.70" y1="279.80" x2="57.70" y2="281.10" stroke="#333" stroke-width="0.45"/>
<line x1="36.80" y1="261.10" x2="38.80" y2="261.10" stroke="#222" stroke-width="0.55"/>
<line x1="60.26" y1="279.80" x2="60.26" y2="281.10" stroke="#333" stroke-width="0.45"/>
<line x1="36.80" y1="258.57" x2="38.80" y2="258.57" stroke="#222" stroke-width="0.55"/>
<line x1="62.07" y1="279.80" x2="62.07" y2="281.10" stroke="#333" stroke-width="0.45"/>
<line x1="36.80" y1="256.77" x2="38.80" y2="256.77" stroke="#222" stroke-width="0.55"/>
<line x1="63.48" y1="279.80" x2="63.48" y2="281.10" stroke="#333" stroke-width="0.45"/>
<line x1="36.80" y1="255.38" x2="38.80" y2="255.38" stroke="#222" stroke-width="0.55"/>
<line x1="64.63" y1="279.80" x2="64.63" y2="281.10" stroke="#333" stroke-width="0.45"/>
<line x1="36.80" y1="254.24" x2="38.80" y2="254.24" stroke="#222" stroke-width="0.55"/>
<line x1="65.60" y1="279.80" x2="65.60" y2="281.10" stroke="#333" stroke-width="0.45"/>
<line x1="36.80" y1="253.28" x2="38.80" y2="253.28" stroke="#222" stroke-width="0.55"/>
<line x1="66.44" y1="279.80" x2="66.44" y2="281.10" stroke="#333" stroke-width="0.45"/>
<line x1="36.80" y1="252.44" x2="38.80" y2="252.44" stroke="#222" stroke-width="0.55"/>
<line x1="67.19" y1="279.80" x2="67.19" y2="281.10" stroke="#333" stroke-width="0.45"/>
<line x1="36.80" y1="251.71" x2="38.80" y2="251.71" stroke="#222" stroke-width="0.55"/>
<line x1="67.85" y1="279.80" x2="67.85" y2="282.00" stroke="#111" stroke-width="0.8"/>
<text x="68.15" y="290.40" font-size="5.9" text-anchor="middle" font-weight="normal" font-style="normal" fill="#111">10<tspan font-size="3.8" dy="-2.2">2</tspan></text>
<line x1="35.00" y1="251.05" x2="38.80" y2="251.05" stroke="#111" stroke-width="1.0"/>
<text x="33.80" y="251.95" font-size="5.9" text-anchor="middle" font-weight="normal" font-style="normal" fill="#111" transform="rotate(-90 33.80 251.95)">10<tspan font-size="3.8" dy="-2.2">2</tspan></text>
<line x1="72.22" y1="279.80" x2="72.22" y2="281.10" stroke="#333" stroke-width="0.45"/>
<line x1="36.80" y1="246.72" x2="38.80" y2="246.72" stroke="#222" stroke-width="0.55"/>
<line x1="74.78" y1="279.80" x2="74.78" y2="281.10" stroke="#333" stroke-width="0.45"/>
<line x1="36.80" y1="244.19" x2="38.80" y2="244.19" stroke="#222" stroke-width="0.55"/>
<line x1="76.59" y1="279.80" x2="76.59" y2="281.10" stroke="#333" stroke-width="0.45"/>
<line x1="36.80" y1="242.40" x2="38.80" y2="242.40" stroke="#222" stroke-width="0.55"/>
<line x1="78.00" y1="279.80" x2="78.00" y2="281.10" stroke="#333" stroke-width="0.45"/>
<line x1="36.80" y1="241.00" x2="38.80" y2="241.00" stroke="#222" stroke-width="0.55"/>
<line x1="79.15" y1="279.80" x2="79.15" y2="281.10" stroke="#333" stroke-width="0.45"/>
<line x1="36.80" y1="239.86" x2="38.80" y2="239.86" stroke="#222" stroke-width="0.55"/>
<line x1="80.13" y1="279.80" x2="80.13" y2="281.10" stroke="#333" stroke-width="0.45"/>
<line x1="36.80" y1="238.90" x2="38.80" y2="238.90" stroke="#222" stroke-width="0.55"/>
<line x1="80.97" y1="279.80" x2="80.97" y2="281.10" stroke="#333" stroke-width="0.45"/>
<line x1="36.80" y1="238.07" x2="38.80" y2="238.07" stroke="#222" stroke-width="0.55"/>
<line x1="81.71" y1="279.80" x2="81.71" y2="281.10" stroke="#333" stroke-width="0.45"/>
<line x1="36.80" y1="237.33" x2="38.80" y2="237.33" stroke="#222" stroke-width="0.55"/>
<line x1="82.38" y1="279.80" x2="82.38" y2="282.00" stroke="#111" stroke-width="0.8"/>
<text x="82.67" y="290.40" font-size="5.9" text-anchor="middle" font-weight="normal" font-style="normal" fill="#111">10<tspan font-size="3.8" dy="-2.2">3</tspan></text>
<line x1="35.00" y1="236.68" x2="38.80" y2="236.68" stroke="#111" stroke-width="1.0"/>
<text x="33.80" y="237.58" font-size="5.9" text-anchor="middle" font-weight="normal" font-style="normal" fill="#111" transform="rotate(-90 33.80 237.58)">10<tspan font-size="3.8" dy="-2.2">3</tspan></text>
<line x1="86.75" y1="279.80" x2="86.75" y2="281.10" stroke="#333" stroke-width="0.45"/>
<line x1="36.80" y1="232.35" x2="38.80" y2="232.35" stroke="#222" stroke-width="0.55"/>
<line x1="89.31" y1="279.80" x2="89.31" y2="281.10" stroke="#333" stroke-width="0.45"/>
<line x1="36.80" y1="229.82" x2="38.80" y2="229.82" stroke="#222" stroke-width="0.55"/>
<line x1="91.12" y1="279.80" x2="91.12" y2="281.10" stroke="#333" stroke-width="0.45"/>
<line x1="36.80" y1="228.02" x2="38.80" y2="228.02" stroke="#222" stroke-width="0.55"/>
<line x1="92.53" y1="279.80" x2="92.53" y2="281.10" stroke="#333" stroke-width="0.45"/>
<line x1="36.80" y1="226.63" x2="38.80" y2="226.63" stroke="#222" stroke-width="0.55"/>
<line x1="93.68" y1="279.80" x2="93.68" y2="281.10" stroke="#333" stroke-width="0.45"/>
<line x1="36.80" y1="225.49" x2="38.80" y2="225.49" stroke="#222" stroke-width="0.55"/>
<line x1="94.65" y1="279.80" x2="94.65" y2="281.10" stroke="#333" stroke-width="0.45"/>
<line x1="36.80" y1="224.53" x2="38.80" y2="224.53" stroke="#222" stroke-width="0.55"/>
<line x1="95.49" y1="279.80" x2="95.49" y2="281.10" stroke="#333" stroke-width="0.45"/>
<line x1="36.80" y1="223.69" x2="38.80" y2="223.69" stroke="#222" stroke-width="0.55"/>
<line x1="96.24" y1="279.80" x2="96.24" y2="281.10" stroke="#333" stroke-width="0.45"/>
<line x1="36.80" y1="222.96" x2="38.80" y2="222.96" stroke="#222" stroke-width="0.55"/>
<line x1="96.90" y1="279.80" x2="96.90" y2="282.00" stroke="#111" stroke-width="0.8"/>
<text x="97.20" y="290.40" font-size="5.9" text-anchor="middle" font-weight="normal" font-style="normal" fill="#111">10<tspan font-size="3.8" dy="-2.2">4</tspan></text>
<line x1="35.00" y1="222.30" x2="38.80" y2="222.30" stroke="#111" stroke-width="1.0"/>
<text x="33.80" y="223.20" font-size="5.9" text-anchor="middle" font-weight="normal" font-style="normal" fill="#111" transform="rotate(-90 33.80 223.20)">10<tspan font-size="3.8" dy="-2.2">4</tspan></text>
<rect x="116.6" y="222.3" width="58.20" height="57.50" fill="none" stroke="#111" stroke-width="1.0"/>
<line x1="116.60" y1="279.80" x2="116.60" y2="282.00" stroke="#111" stroke-width="0.8"/>
<text x="116.90" y="290.40" font-size="5.9" text-anchor="middle" font-weight="normal" font-style="normal" fill="#111">10<tspan font-size="3.8" dy="-2.2">0</tspan></text>
<line x1="112.80" y1="279.80" x2="116.60" y2="279.80" stroke="#111" stroke-width="1.0"/>
<text x="111.60" y="280.70" font-size="5.9" text-anchor="middle" font-weight="normal" font-style="normal" fill="#111" transform="rotate(-90 111.60 280.70)">10<tspan font-size="3.8" dy="-2.2">0</tspan></text>
<line x1="120.98" y1="279.80" x2="120.98" y2="281.10" stroke="#333" stroke-width="0.45"/>
<line x1="114.60" y1="275.47" x2="116.60" y2="275.47" stroke="#222" stroke-width="0.55"/>
<line x1="123.54" y1="279.80" x2="123.54" y2="281.10" stroke="#333" stroke-width="0.45"/>
<line x1="114.60" y1="272.94" x2="116.60" y2="272.94" stroke="#222" stroke-width="0.55"/>
<line x1="125.36" y1="279.80" x2="125.36" y2="281.10" stroke="#333" stroke-width="0.45"/>
<line x1="114.60" y1="271.15" x2="116.60" y2="271.15" stroke="#222" stroke-width="0.55"/>
<line x1="126.77" y1="279.80" x2="126.77" y2="281.10" stroke="#333" stroke-width="0.45"/>
<line x1="114.60" y1="269.75" x2="116.60" y2="269.75" stroke="#222" stroke-width="0.55"/>
<line x1="127.92" y1="279.80" x2="127.92" y2="281.10" stroke="#333" stroke-width="0.45"/>
<line x1="114.60" y1="268.61" x2="116.60" y2="268.61" stroke="#222" stroke-width="0.55"/>
<line x1="128.90" y1="279.80" x2="128.90" y2="281.10" stroke="#333" stroke-width="0.45"/>
<line x1="114.60" y1="267.65" x2="116.60" y2="267.65" stroke="#222" stroke-width="0.55"/>
<line x1="129.74" y1="279.80" x2="129.74" y2="281.10" stroke="#333" stroke-width="0.45"/>
<line x1="114.60" y1="266.82" x2="116.60" y2="266.82" stroke="#222" stroke-width="0.55"/>
<line x1="130.48" y1="279.80" x2="130.48" y2="281.10" stroke="#333" stroke-width="0.45"/>
<line x1="114.60" y1="266.08" x2="116.60" y2="266.08" stroke="#222" stroke-width="0.55"/>
<line x1="131.15" y1="279.80" x2="131.15" y2="282.00" stroke="#111" stroke-width="0.8"/>
<text x="131.45" y="290.40" font-size="5.9" text-anchor="middle" font-weight="normal" font-style="normal" fill="#111">10<tspan font-size="3.8" dy="-2.2">1</tspan></text>
<line x1="112.80" y1="265.43" x2="116.60" y2="265.43" stroke="#111" stroke-width="1.0"/>
<text x="111.60" y="266.32" font-size="5.9" text-anchor="middle" font-weight="normal" font-style="normal" fill="#111" transform="rotate(-90 111.60 266.32)">10<tspan font-size="3.8" dy="-2.2">1</tspan></text>
<line x1="135.53" y1="279.80" x2="135.53" y2="281.10" stroke="#333" stroke-width="0.45"/>
<line x1="114.60" y1="261.10" x2="116.60" y2="261.10" stroke="#222" stroke-width="0.55"/>
<line x1="138.09" y1="279.80" x2="138.09" y2="281.10" stroke="#333" stroke-width="0.45"/>
<line x1="114.60" y1="258.57" x2="116.60" y2="258.57" stroke="#222" stroke-width="0.55"/>
<line x1="139.91" y1="279.80" x2="139.91" y2="281.10" stroke="#333" stroke-width="0.45"/>
<line x1="114.60" y1="256.77" x2="116.60" y2="256.77" stroke="#222" stroke-width="0.55"/>
<line x1="141.32" y1="279.80" x2="141.32" y2="281.10" stroke="#333" stroke-width="0.45"/>
<line x1="114.60" y1="255.38" x2="116.60" y2="255.38" stroke="#222" stroke-width="0.55"/>
<line x1="142.47" y1="279.80" x2="142.47" y2="281.10" stroke="#333" stroke-width="0.45"/>
<line x1="114.60" y1="254.24" x2="116.60" y2="254.24" stroke="#222" stroke-width="0.55"/>
<line x1="143.45" y1="279.80" x2="143.45" y2="281.10" stroke="#333" stroke-width="0.45"/>
<line x1="114.60" y1="253.28" x2="116.60" y2="253.28" stroke="#222" stroke-width="0.55"/>
<line x1="144.29" y1="279.80" x2="144.29" y2="281.10" stroke="#333" stroke-width="0.45"/>
<line x1="114.60" y1="252.44" x2="116.60" y2="252.44" stroke="#222" stroke-width="0.55"/>
<line x1="145.03" y1="279.80" x2="145.03" y2="281.10" stroke="#333" stroke-width="0.45"/>
<line x1="114.60" y1="251.71" x2="116.60" y2="251.71" stroke="#222" stroke-width="0.55"/>
<line x1="145.70" y1="279.80" x2="145.70" y2="282.00" stroke="#111" stroke-width="0.8"/>
<text x="146.00" y="290.40" font-size="5.9" text-anchor="middle" font-weight="normal" font-style="normal" fill="#111">10<tspan font-size="3.8" dy="-2.2">2</tspan></text>
<line x1="112.80" y1="251.05" x2="116.60" y2="251.05" stroke="#111" stroke-width="1.0"/>
<text x="111.60" y="251.95" font-size="5.9" text-anchor="middle" font-weight="normal" font-style="normal" fill="#111" transform="rotate(-90 111.60 251.95)">10<tspan font-size="3.8" dy="-2.2">2</tspan></text>
<line x1="150.08" y1="279.80" x2="150.08" y2="281.10" stroke="#333" stroke-width="0.45"/>
<line x1="114.60" y1="246.72" x2="116.60" y2="246.72" stroke="#222" stroke-width="0.55"/>
<line x1="152.64" y1="279.80" x2="152.64" y2="281.10" stroke="#333" stroke-width="0.45"/>
<line x1="114.60" y1="244.19" x2="116.60" y2="244.19" stroke="#222" stroke-width="0.55"/>
<line x1="154.46" y1="279.80" x2="154.46" y2="281.10" stroke="#333" stroke-width="0.45"/>
<line x1="114.60" y1="242.40" x2="116.60" y2="242.40" stroke="#222" stroke-width="0.55"/>
<line x1="155.87" y1="279.80" x2="155.87" y2="281.10" stroke="#333" stroke-width="0.45"/>
<line x1="114.60" y1="241.00" x2="116.60" y2="241.00" stroke="#222" stroke-width="0.55"/>
<line x1="157.02" y1="279.80" x2="157.02" y2="281.10" stroke="#333" stroke-width="0.45"/>
<line x1="114.60" y1="239.86" x2="116.60" y2="239.86" stroke="#222" stroke-width="0.55"/>
<line x1="158.00" y1="279.80" x2="158.00" y2="281.10" stroke="#333" stroke-width="0.45"/>
<line x1="114.60" y1="238.90" x2="116.60" y2="238.90" stroke="#222" stroke-width="0.55"/>
<line x1="158.84" y1="279.80" x2="158.84" y2="281.10" stroke="#333" stroke-width="0.45"/>
<line x1="114.60" y1="238.07" x2="116.60" y2="238.07" stroke="#222" stroke-width="0.55"/>
<line x1="159.58" y1="279.80" x2="159.58" y2="281.10" stroke="#333" stroke-width="0.45"/>
<line x1="114.60" y1="237.33" x2="116.60" y2="237.33" stroke="#222" stroke-width="0.55"/>
<line x1="160.25" y1="279.80" x2="160.25" y2="282.00" stroke="#111" stroke-width="0.8"/>
<text x="160.55" y="290.40" font-size="5.9" text-anchor="middle" font-weight="normal" font-style="normal" fill="#111">10<tspan font-size="3.8" dy="-2.2">3</tspan></text>
<line x1="112.80" y1="236.68" x2="116.60" y2="236.68" stroke="#111" stroke-width="1.0"/>
<text x="111.60" y="237.58" font-size="5.9" text-anchor="middle" font-weight="normal" font-style="normal" fill="#111" transform="rotate(-90 111.60 237.58)">10<tspan font-size="3.8" dy="-2.2">3</tspan></text>
<line x1="164.63" y1="279.80" x2="164.63" y2="281.10" stroke="#333" stroke-width="0.45"/>
<line x1="114.60" y1="232.35" x2="116.60" y2="232.35" stroke="#222" stroke-width="0.55"/>
<line x1="167.19" y1="279.80" x2="167.19" y2="281.10" stroke="#333" stroke-width="0.45"/>
<line x1="114.60" y1="229.82" x2="116.60" y2="229.82" stroke="#222" stroke-width="0.55"/>
<line x1="169.01" y1="279.80" x2="169.01" y2="281.10" stroke="#333" stroke-width="0.45"/>
<line x1="114.60" y1="228.02" x2="116.60" y2="228.02" stroke="#222" stroke-width="0.55"/>
<line x1="170.42" y1="279.80" x2="170.42" y2="281.10" stroke="#333" stroke-width="0.45"/>
<line x1="114.60" y1="226.63" x2="116.60" y2="226.63" stroke="#222" stroke-width="0.55"/>
<line x1="171.57" y1="279.80" x2="171.57" y2="281.10" stroke="#333" stroke-width="0.45"/>
<line x1="114.60" y1="225.49" x2="116.60" y2="225.49" stroke="#222" stroke-width="0.55"/>
<line x1="172.55" y1="279.80" x2="172.55" y2="281.10" stroke="#333" stroke-width="0.45"/>
<line x1="114.60" y1="224.53" x2="116.60" y2="224.53" stroke="#222" stroke-width="0.55"/>
<line x1="173.39" y1="279.80" x2="173.39" y2="281.10" stroke="#333" stroke-width="0.45"/>
<line x1="114.60" y1="223.69" x2="116.60" y2="223.69" stroke="#222" stroke-width="0.55"/>
<line x1="174.13" y1="279.80" x2="174.13" y2="281.10" stroke="#333" stroke-width="0.45"/>
<line x1="114.60" y1="222.96" x2="116.60" y2="222.96" stroke="#222" stroke-width="0.55"/>
<line x1="174.80" y1="279.80" x2="174.80" y2="282.00" stroke="#111" stroke-width="0.8"/>
<text x="175.10" y="290.40" font-size="5.9" text-anchor="middle" font-weight="normal" font-style="normal" fill="#111">10<tspan font-size="3.8" dy="-2.2">4</tspan></text>
<line x1="112.80" y1="222.30" x2="116.60" y2="222.30" stroke="#111" stroke-width="1.0"/>
<text x="111.60" y="223.20" font-size="5.9" text-anchor="middle" font-weight="normal" font-style="normal" fill="#111" transform="rotate(-90 111.60 223.20)">10<tspan font-size="3.8" dy="-2.2">4</tspan></text>
<g clip-path="url(#c1)">
<path d="M39 181.5 L57 180.3 L76.5 181 L74 188.5 L67.5 202 L47.5 202 L40 193Z" fill="#b2b2b2" opacity="0.9" filter="url(#b15)"/>
<path d="M39 182 L44 186 L47 201 L39 202Z" fill="#ccc" opacity="0.8" filter="url(#b1)"/>
<ellipse cx="57.50" cy="187.50" rx="9.50" ry="7.00" transform="rotate(0 57.50 187.50)" fill="#505050" stroke="none" stroke-width="0.4" opacity="0.72" filter="url(#b2)"/>
<ellipse cx="57.30" cy="183.80" rx="4.60" ry="2.00" transform="rotate(0 57.30 183.80)" fill="#1a1a1a" stroke="none" stroke-width="0.4" opacity="0.9" filter="url(#b1)"/>
<g clip-path="url(#k1)">
<ellipse cx="57.50" cy="190.50" rx="19.00" ry="11.50" transform="rotate(0 57.50 190.50)" fill="none" stroke="#5a5a5a" stroke-width="0.35" opacity="1"/>
<ellipse cx="57.80" cy="189.80" rx="15.96" ry="9.66" transform="rotate(0 57.80 189.80)" fill="none" stroke="#5a5a5a" stroke-width="0.35" opacity="1"/>
<ellipse cx="58.10" cy="189.10" rx="13.41" ry="8.11" transform="rotate(0 58.10 189.10)" fill="none" stroke="#5a5a5a" stroke-width="0.35" opacity="1"/>
<ellipse cx="58.40" cy="188.40" rx="11.26" ry="6.82" transform="rotate(0 58.40 188.40)" fill="none" stroke="#5a5a5a" stroke-width="0.35" opacity="1"/>
<ellipse cx="58.70" cy="187.70" rx="9.46" ry="5.73" transform="rotate(0 58.70 187.70)" fill="none" stroke="#5a5a5a" stroke-width="0.35" opacity="1"/>
<ellipse cx="59.00" cy="187.00" rx="7.95" ry="4.81" transform="rotate(0 59.00 187.00)" fill="none" stroke="#5a5a5a" stroke-width="0.35" opacity="1"/>
<ellipse cx="59.30" cy="186.30" rx="6.67" ry="4.04" transform="rotate(0 59.30 186.30)" fill="none" stroke="#5a5a5a" stroke-width="0.35" opacity="1"/>
</g>
<path d="M58 180.6 L75.8 181.2 Q76.3 184 73.5 188.5 L67 201" fill="none" stroke="#fff" stroke-width="0.9" opacity="0.95"/>
<path d="M58 179.9 L76.8 180.4 Q77.5 184 74.5 189 L68.2 201.5" fill="none" stroke="#555" stroke-width="0.35"/>
<ellipse cx="60.10" cy="187.50" rx="0.80" ry="0.80" transform="rotate(0 60.10 187.50)" fill="#fff" stroke="none" stroke-width="0.4" opacity="1"/>
<rect x="38.8" y="180" width="1.4" height="22.2" fill="#222" opacity="0.9"/>
<rect x="50.5" y="200.9" width="17" height="1.4" fill="#111" opacity="0.95"/>
<ellipse cx="74.50" cy="165.00" rx="18.00" ry="6.20" transform="rotate(-39 74.50 165.00)" fill="#b0b0b0" stroke="none" stroke-width="0.4" opacity="0.8" filter="url(#b2)"/>
<ellipse cx="80.00" cy="160.50" rx="9.00" ry="3.40" transform="rotate(-39 80.00 160.50)" fill="#a4a4a4" stroke="none" stroke-width="0.4" opacity="0.5" filter="url(#b1)"/>
<circle cx="78.5" cy="167.8" r="0.32" fill="#777"/>
<circle cx="70.3" cy="173.3" r="0.32" fill="#777"/>
<circle cx="72.5" cy="165.8" r="0.32" fill="#777"/>
<circle cx="89.4" cy="154.1" r="0.32" fill="#777"/>
<circle cx="76.3" cy="167.2" r="0.32" fill="#777"/>
<circle cx="83.3" cy="158.2" r="0.32" fill="#777"/>
<circle cx="77.2" cy="158.8" r="0.32" fill="#777"/>
<circle cx="71.3" cy="166.0" r="0.32" fill="#777"/>
<circle cx="61.8" cy="168.9" r="0.32" fill="#777"/>
<circle cx="62.5" cy="174.1" r="0.32" fill="#777"/>
<circle cx="73.0" cy="165.2" r="0.32" fill="#777"/>
<circle cx="72.6" cy="161.0" r="0.32" fill="#777"/>
<circle cx="74.9" cy="166.1" r="0.32" fill="#777"/>
<circle cx="78.7" cy="158.2" r="0.32" fill="#777"/>
<circle cx="67.6" cy="161.9" r="0.32" fill="#777"/>
<circle cx="66.4" cy="162.0" r="0.32" fill="#777"/>
<circle cx="66.9" cy="176.5" r="0.32" fill="#777"/>
<circle cx="76.7" cy="162.2" r="0.32" fill="#777"/>
<circle cx="79.6" cy="163.7" r="0.32" fill="#777"/>
<circle cx="82.2" cy="158.1" r="0.32" fill="#777"/>
<circle cx="69.3" cy="166.9" r="0.32" fill="#777"/>
<circle cx="67.6" cy="170.8" r="0.32" fill="#777"/>
<circle cx="71.6" cy="172.6" r="0.32" fill="#777"/>
<circle cx="58.8" cy="173.2" r="0.32" fill="#777"/>
<circle cx="71.8" cy="165.3" r="0.32" fill="#777"/>
<circle cx="81.3" cy="156.6" r="0.32" fill="#777"/>
<circle cx="72.4" cy="164.1" r="0.32" fill="#777"/>
<circle cx="77.2" cy="158.1" r="0.32" fill="#777"/>
<circle cx="75.2" cy="166.4" r="0.32" fill="#777"/>
<circle cx="88.3" cy="158.5" r="0.32" fill="#777"/>
<circle cx="72.1" cy="168.7" r="0.32" fill="#777"/>
<circle cx="75.2" cy="172.3" r="0.32" fill="#777"/>
<circle cx="76.1" cy="163.2" r="0.32" fill="#777"/>
<circle cx="72.9" cy="165.8" r="0.32" fill="#777"/>
<circle cx="71.8" cy="163.7" r="0.32" fill="#777"/>
<circle cx="74.7" cy="166.9" r="0.32" fill="#777"/>
<circle cx="73.2" cy="165.8" r="0.32" fill="#777"/>
<circle cx="79.6" cy="165.6" r="0.32" fill="#777"/>
<circle cx="70.9" cy="166.7" r="0.32" fill="#777"/>
<circle cx="90.5" cy="154.8" r="0.32" fill="#777"/>
<circle cx="79.4" cy="158.8" r="0.32" fill="#777"/>
<circle cx="67.0" cy="172.8" r="0.32" fill="#777"/>
<circle cx="66.5" cy="167.1" r="0.32" fill="#777"/>
<circle cx="64.3" cy="171.4" r="0.32" fill="#777"/>
<circle cx="82.2" cy="157.2" r="0.32" fill="#777"/>
<circle cx="65.8" cy="175.5" r="0.32" fill="#777"/>
<circle cx="77.3" cy="166.9" r="0.32" fill="#777"/>
<circle cx="83.5" cy="157.4" r="0.32" fill="#777"/>
<circle cx="73.8" cy="165.7" r="0.32" fill="#777"/>
<circle cx="68.1" cy="173.6" r="0.32" fill="#777"/>
<circle cx="85.5" cy="157.3" r="0.32" fill="#777"/>
<circle cx="72.7" cy="165.7" r="0.32" fill="#777"/>
<circle cx="67.5" cy="167.5" r="0.32" fill="#777"/>
<circle cx="70.2" cy="165.1" r="0.32" fill="#777"/>
<circle cx="68.3" cy="163.3" r="0.32" fill="#777"/>
<circle cx="77.7" cy="163.0" r="0.32" fill="#777"/>
<circle cx="77.4" cy="168.0" r="0.32" fill="#777"/>
<circle cx="68.5" cy="168.1" r="0.32" fill="#777"/>
<circle cx="72.2" cy="170.2" r="0.32" fill="#777"/>
<circle cx="70.4" cy="173.2" r="0.32" fill="#777"/>
<circle cx="74.8" cy="169.3" r="0.32" fill="#777"/>
<circle cx="74.7" cy="164.2" r="0.32" fill="#777"/>
<circle cx="62.6" cy="172.0" r="0.32" fill="#777"/>
<circle cx="74.5" cy="168.4" r="0.32" fill="#777"/>
<circle cx="75.3" cy="161.6" r="0.32" fill="#777"/>
<circle cx="80.2" cy="165.2" r="0.32" fill="#777"/>
<circle cx="72.9" cy="164.7" r="0.32" fill="#777"/>
<circle cx="73.9" cy="169.6" r="0.32" fill="#777"/>
<circle cx="76.9" cy="159.3" r="0.32" fill="#777"/>
<circle cx="76.7" cy="161.5" r="0.32" fill="#777"/>
<circle cx="72.2" cy="172.9" r="0.32" fill="#777"/>
<circle cx="79.5" cy="158.1" r="0.32" fill="#777"/>
<circle cx="76.7" cy="165.9" r="0.32" fill="#777"/>
<circle cx="70.0" cy="168.5" r="0.32" fill="#777"/>
<circle cx="76.0" cy="156.1" r="0.32" fill="#777"/>
<circle cx="79.0" cy="165.1" r="0.32" fill="#777"/>
<circle cx="75.8" cy="158.3" r="0.32" fill="#777"/>
<circle cx="75.5" cy="160.7" r="0.32" fill="#777"/>
<circle cx="80.5" cy="163.2" r="0.32" fill="#777"/>
<circle cx="74.9" cy="161.6" r="0.32" fill="#777"/>
<circle cx="72.5" cy="170.9" r="0.32" fill="#777"/>
<ellipse cx="72.40" cy="171.00" rx="9.00" ry="3.90" transform="rotate(-52 72.40 171.00)" fill="#c4c4c4" stroke="#555" stroke-width="0.45" opacity="1"/>
<ellipse cx="72.60" cy="170.90" rx="7.40" ry="2.80" transform="rotate(-52 72.60 170.90)" fill="none" stroke="#fff" stroke-width="0.9" opacity="1"/>
<ellipse cx="72.90" cy="170.60" rx="5.80" ry="1.50" transform="rotate(-52 72.90 170.60)" fill="#b0b0b0" stroke="#666" stroke-width="0.4" opacity="1"/>
<ellipse cx="82.00" cy="159.80" rx="1.70" ry="1.10" transform="rotate(-30 82.00 159.80)" fill="#fff" stroke="#777" stroke-width="0.35" opacity="1"/>
<ellipse cx="78.50" cy="163.20" rx="1.30" ry="0.90" transform="rotate(-30 78.50 163.20)" fill="#fff" stroke="#888" stroke-width="0.3" opacity="1"/>
</g>
<g clip-path="url(#c2)">
<path d="M117 181.6 L136 180.6 L147 181 L156.5 180 L151 189 L145.5 202 L127 202 L121 196 L117 197Z" fill="#a8a8a8" opacity="0.9" filter="url(#b15)"/>
<ellipse cx="136.50" cy="188.00" rx="10.00" ry="7.00" transform="rotate(0 136.50 188.00)" fill="#505050" stroke="none" stroke-width="0.4" opacity="0.6" filter="url(#b2)"/>
<ellipse cx="136.00" cy="184.00" rx="7.50" ry="2.60" transform="rotate(0 136.00 184.00)" fill="#1a1a1a" stroke="none" stroke-width="0.4" opacity="0.9" filter="url(#b1)"/>
<ellipse cx="142.00" cy="189.50" rx="3.20" ry="3.40" transform="rotate(0 142.00 189.50)" fill="#333" stroke="none" stroke-width="0.4" opacity="0.7" filter="url(#b1)"/>
<ellipse cx="131.00" cy="190.00" rx="4.00" ry="5.00" transform="rotate(0 131.00 190.00)" fill="#555" stroke="none" stroke-width="0.4" opacity="0.5" filter="url(#b1)"/>
<g clip-path="url(#k2)">
<ellipse cx="136.00" cy="190.80" rx="20.00" ry="11.50" transform="rotate(0 136.00 190.80)" fill="none" stroke="#444" stroke-width="0.4" opacity="1"/>
<ellipse cx="136.30" cy="190.10" rx="16.80" ry="9.66" transform="rotate(0 136.30 190.10)" fill="none" stroke="#444" stroke-width="0.4" opacity="1"/>
<ellipse cx="136.60" cy="189.40" rx="14.11" ry="8.11" transform="rotate(0 136.60 189.40)" fill="none" stroke="#444" stroke-width="0.4" opacity="1"/>
<ellipse cx="136.90" cy="188.70" rx="11.85" ry="6.82" transform="rotate(0 136.90 188.70)" fill="none" stroke="#444" stroke-width="0.4" opacity="1"/>
<ellipse cx="137.20" cy="188.00" rx="9.96" ry="5.73" transform="rotate(0 137.20 188.00)" fill="none" stroke="#444" stroke-width="0.4" opacity="1"/>
<ellipse cx="137.50" cy="187.30" rx="8.36" ry="4.81" transform="rotate(0 137.50 187.30)" fill="none" stroke="#444" stroke-width="0.4" opacity="1"/>
<ellipse cx="137.80" cy="186.60" rx="7.03" ry="4.04" transform="rotate(0 137.80 186.60)" fill="none" stroke="#444" stroke-width="0.4" opacity="1"/>
</g>
<ellipse cx="138.00" cy="187.40" rx="1.10" ry="0.90" transform="rotate(0 138.00 187.40)" fill="#fff" stroke="none" stroke-width="0.4" opacity="0.9"/>
<path d="M142.5 180.5 L163.5 160 L157 174 L151 184Z" fill="#ddd" opacity="0.6"/>
<path d="M142.5 180.5 Q153 170 163.5 160 Q160 168 157 174 Q154 180 150 186 M147 179 Q154 171 160 164 M152 180 L153.5 175 M155 182 L156 176 M146 171 L150 166 M167 166 L169 162 M144 178 Q150 171 156 166 M149 181 Q156 172 161.5 163.5 M158 176 L160 171" fill="none" stroke="#808080" stroke-width="0.4"/>
<circle cx="149.5" cy="175.9" r="0.3" fill="#999"/>
<circle cx="153.4" cy="169.8" r="0.3" fill="#999"/>
<circle cx="153.8" cy="169.3" r="0.3" fill="#999"/>
<circle cx="149.1" cy="169.5" r="0.3" fill="#999"/>
<circle cx="148.3" cy="172.8" r="0.3" fill="#999"/>
<circle cx="152.5" cy="174.0" r="0.3" fill="#999"/>
<circle cx="152.7" cy="172.3" r="0.3" fill="#999"/>
<circle cx="148.9" cy="173.9" r="0.3" fill="#999"/>
<circle cx="152.0" cy="171.2" r="0.3" fill="#999"/>
<circle cx="155.2" cy="166.3" r="0.3" fill="#999"/>
<circle cx="157.3" cy="163.9" r="0.3" fill="#999"/>
<circle cx="154.7" cy="167.2" r="0.3" fill="#999"/>
<circle cx="158.0" cy="166.4" r="0.3" fill="#999"/>
<circle cx="154.5" cy="171.6" r="0.3" fill="#999"/>
<circle cx="148.3" cy="172.8" r="0.3" fill="#999"/>
<circle cx="148.7" cy="173.6" r="0.3" fill="#999"/>
<circle cx="154.7" cy="174.9" r="0.3" fill="#999"/>
<circle cx="146.2" cy="178.5" r="0.3" fill="#999"/>
<circle cx="151.4" cy="174.2" r="0.3" fill="#999"/>
<circle cx="145.1" cy="177.8" r="0.3" fill="#999"/>
<circle cx="157.2" cy="171.2" r="0.3" fill="#999"/>
<path d="M117 183 L123 190 L119 197 L117 197Z" fill="#fff" opacity="0.55"/>
<rect x="116.6" y="180" width="1.4" height="22.2" fill="#222" opacity="0.9"/>
<ellipse cx="117.80" cy="187.00" rx="1.20" ry="2.40" transform="rotate(0 117.80 187.00)" fill="#222" stroke="none" stroke-width="0.4" opacity="0.8"/>
<rect x="128.5" y="200.9" width="11" height="1.4" fill="#111" opacity="0.95"/>
</g>
<g clip-path="url(#c3)">
<ellipse cx="76.50" cy="244.50" rx="19.50" ry="7.80" transform="rotate(-41 76.50 244.50)" fill="#cfcfcf" stroke="none" stroke-width="0.4" opacity="0.85" filter="url(#b1)"/>
<ellipse cx="77.00" cy="244.50" rx="12.00" ry="4.60" transform="rotate(-41 77.00 244.50)" fill="#999" stroke="none" stroke-width="0.4" opacity="0.7" filter="url(#b15)"/>
<ellipse cx="76.50" cy="244.50" rx="20.00" ry="8.20" transform="rotate(-41 76.50 244.50)" fill="none" stroke="#555" stroke-width="0.36" opacity="1"/>
<ellipse cx="76.50" cy="244.50" rx="16.80" ry="6.89" transform="rotate(-41 76.50 244.50)" fill="none" stroke="#555" stroke-width="0.36" opacity="1"/>
<ellipse cx="76.50" cy="244.50" rx="14.11" ry="5.79" transform="rotate(-41 76.50 244.50)" fill="none" stroke="#555" stroke-width="0.36" opacity="1"/>
<ellipse cx="76.50" cy="244.50" rx="11.85" ry="4.86" transform="rotate(-41 76.50 244.50)" fill="none" stroke="#555" stroke-width="0.36" opacity="1"/>
<ellipse cx="76.50" cy="244.50" rx="9.96" ry="4.08" transform="rotate(-41 76.50 244.50)" fill="none" stroke="#555" stroke-width="0.36" opacity="1"/>
<ellipse cx="76.50" cy="244.50" rx="8.36" ry="3.43" transform="rotate(-41 76.50 244.50)" fill="none" stroke="#555" stroke-width="0.36" opacity="1"/>
<path d="M74.5 241.2 Q80 240.4 86.6 239.8 M79 241.8 Q75 246 72.3 250 Q70.6 252.5 69.8 253.8" fill="none" stroke="#0a0a0a" stroke-width="2.3" stroke-linecap="round" opacity="0.9" filter="url(#b1)"/>
<path d="M71.2 252 Q72 250.3 73.2 249" fill="none" stroke="#f4f4f4" stroke-width="0.8" stroke-linecap="round"/>
<path d="M49.8 260 L62 258.6 L75.6 260 L72 268 L68.2 279.5 L53.5 279.5 L51 268Z" fill="#c0c0c0" opacity="0.85" filter="url(#b15)"/>
<g clip-path="url(#k3)">
<ellipse cx="62.00" cy="267.50" rx="14.00" ry="12.00" transform="rotate(0 62.00 267.50)" fill="none" stroke="#505050" stroke-width="0.4" opacity="1"/>
<ellipse cx="62.00" cy="267.30" rx="11.76" ry="10.08" transform="rotate(0 62.00 267.30)" fill="none" stroke="#505050" stroke-width="0.4" opacity="1"/>
<ellipse cx="62.00" cy="267.10" rx="9.88" ry="8.47" transform="rotate(0 62.00 267.10)" fill="none" stroke="#505050" stroke-width="0.4" opacity="1"/>
<ellipse cx="62.00" cy="266.90" rx="8.30" ry="7.11" transform="rotate(0 62.00 266.90)" fill="none" stroke="#505050" stroke-width="0.4" opacity="1"/>
<ellipse cx="62.00" cy="266.70" rx="6.97" ry="5.97" transform="rotate(0 62.00 266.70)" fill="none" stroke="#505050" stroke-width="0.4" opacity="1"/>
</g>
<ellipse cx="62.00" cy="266.30" rx="4.60" ry="5.00" transform="rotate(0 62.00 266.30)" fill="#444" stroke="none" stroke-width="0.4" opacity="0.85" filter="url(#b1)"/>
<ellipse cx="62.00" cy="266.30" rx="4.40" ry="4.80" transform="rotate(0 62.00 266.30)" fill="none" stroke="#111" stroke-width="0.6" opacity="0.55"/>
<ellipse cx="62.20" cy="266.30" rx="1.90" ry="2.60" transform="rotate(0 62.20 266.30)" fill="#fff" stroke="none" stroke-width="0.4" opacity="0.97" filter="url(#b1)"/>
<ellipse cx="60.50" cy="275.00" rx="4.00" ry="2.40" transform="rotate(0 60.50 275.00)" fill="#666" stroke="none" stroke-width="0.4" opacity="0.5" filter="url(#b1)"/>
<rect x="54.5" y="278.6" width="12.6" height="1.4" fill="#111" opacity="0.9"/>
<rect x="38.8" y="250" width="1.3" height="30" fill="#333" opacity="0.8"/>
</g>
<g clip-path="url(#c4)">
<path d="M146.8 257 Q148.5 247 156 240 Q163 234 171.5 231.5 Q173.5 236 170.5 244 Q166 252 158 257 Z" fill="#999" opacity="0.85" filter="url(#b1)"/>
<path d="M147.20 256.50 Q148.80 247.30 156.20 240.40 Q163.00 234.60 171.30 232.00" fill="none" stroke="#333" stroke-width="0.42"/>
<path d="M148.01 256.50 Q149.70 247.84 156.83 241.12 Q163.27 235.50 170.94 232.90" fill="none" stroke="#333" stroke-width="0.42"/>
<path d="M148.82 256.50 Q150.60 248.38 157.46 241.84 Q163.54 236.40 170.58 233.80" fill="none" stroke="#333" stroke-width="0.42"/>
<path d="M149.63 256.50 Q151.50 248.92 158.09 242.56 Q163.81 237.30 170.22 234.70" fill="none" stroke="#333" stroke-width="0.42"/>
<path d="M150.44 256.50 Q152.40 249.46 158.72 243.28 Q164.08 238.20 169.86 235.60" fill="none" stroke="#333" stroke-width="0.42"/>
<path d="M150.2 247.3 Q153 243 156.3 240.8 Q162 237.6 169.6 236" fill="none" stroke="#0a0a0a" stroke-width="2.3" stroke-linecap="round" opacity="0.95" filter="url(#b1)"/>
<path d="M160 240.5 Q159 244 160.5 247 M161 248.5 Q166 247 169.5 243" fill="none" stroke="#222" stroke-width="1.0" opacity="0.8" filter="url(#b1)"/>
<path d="M154.3 247.8 L158.2 242.8 L158.8 247.6Z" fill="#fff" opacity="0.95"/>
<ellipse cx="143.00" cy="263.50" rx="13.50" ry="6.00" transform="rotate(-30 143.00 263.50)" fill="#dadada" stroke="none" stroke-width="0.4" opacity="0.8" filter="url(#b1)"/>
<ellipse cx="143.00" cy="263.50" rx="13.50" ry="6.00" transform="rotate(-30 143.00 263.50)" fill="none" stroke="#777" stroke-width="0.38" opacity="1"/>
<ellipse cx="143.00" cy="263.50" rx="10.80" ry="4.80" transform="rotate(-30 143.00 263.50)" fill="none" stroke="#777" stroke-width="0.38" opacity="1"/>
<ellipse cx="143.00" cy="263.50" rx="8.64" ry="3.84" transform="rotate(-30 143.00 263.50)" fill="none" stroke="#777" stroke-width="0.38" opacity="1"/>
<ellipse cx="143.00" cy="263.50" rx="6.91" ry="3.07" transform="rotate(-30 143.00 263.50)" fill="none" stroke="#777" stroke-width="0.38" opacity="1"/>
<ellipse cx="143.00" cy="263.50" rx="5.53" ry="2.46" transform="rotate(-30 143.00 263.50)" fill="none" stroke="#777" stroke-width="0.38" opacity="1"/>
<path d="M150 258 Q153 255.5 156 253 M146 258.5 L149 254" fill="none" stroke="#888" stroke-width="0.4"/>
<ellipse cx="140.60" cy="279.80" rx="1.90" ry="1.60" transform="rotate(0 140.60 279.80)" fill="#777" stroke="none" stroke-width="0.4" opacity="0.9"/>
<rect x="116.6" y="250" width="1.2" height="30" fill="#333" opacity="0.7"/>
</g>
<rect x="55.8" y="150.2" width="37.70" height="29.10" fill="none" stroke="#222" stroke-width="0.8"/>
<rect x="134.4" y="149.7" width="37.40" height="29.60" fill="none" stroke="#222" stroke-width="0.8"/>
<rect x="55.9" y="229.0" width="38.40" height="29.40" fill="none" stroke="#222" stroke-width="0.8"/>
<rect x="134.4" y="226.5" width="37.80" height="29.70" fill="none" stroke="#222" stroke-width="0.8"/>
<text x="40.50" y="157.60" font-size="7.9" text-anchor="start" font-weight="normal" font-style="normal" fill="#111">8.4</text>
<text x="120.50" y="158.40" font-size="8.5" text-anchor="start" font-weight="normal" font-style="normal" fill="#111">8.5</text>
<text x="40.20" y="236.90" font-size="7.9" text-anchor="start" font-weight="normal" font-style="normal" fill="#111">47.3</text>
<text x="118.90" y="236.90" font-size="7.7" text-anchor="start" font-weight="normal" font-style="normal" fill="#111">80.8</text>
<text x="67.40" y="130.70" font-size="8.8" text-anchor="middle" font-weight="normal" font-style="normal" fill="#111">Myeloid</text>
<text x="67.40" y="141.10" font-size="8.8" text-anchor="middle" font-weight="normal" font-style="normal" fill="#111">progenitors</text>
<text x="146.40" y="137.30" font-size="9.8" text-anchor="middle" font-weight="normal" font-style="normal" fill="#111">LSKs</text>
<text x="22.00" y="226.60" font-size="10.0" text-anchor="start" font-weight="normal" font-style="normal" fill="#111" transform="rotate(-90 22.00 226.60)" stroke="#111" stroke-width="0.35">7-AAD</text>
<text x="83.30" y="303.20" font-size="10.0" text-anchor="start" font-weight="normal" font-style="normal" fill="#111" stroke="#111" stroke-width="0.3">Annexin V</text>
<line x1="25.70" y1="280.60" x2="25.70" y2="147.50" stroke="#000" stroke-width="1.2"/>
<path d="M25.7 144.4 L23.5 150.4 L25.7 149.2 L27.9 150.4Z" fill="#000"/>
<line x1="37.90" y1="292.90" x2="171.50" y2="292.90" stroke="#000" stroke-width="1.2"/>
<path d="M174.4 293 L168.4 290.4 L169.8 293 L168.4 295.6Z" fill="#000"/>
<g transform="rotate(-90 187.30 198.60)">
<text x="187.30" y="198.60" font-size="9.7" fill="#111">GABP</text>
<text transform="translate(214.36 198.60) scale(1.1 1)" font-size="9.40" font-family="DejaVu Sans, sans-serif" fill="#111" stroke="none">α</text>
<text x="221.47" y="196.32" font-size="6.70" fill="#111">FL/+</text>
</g>
<g transform="rotate(-90 187.30 276.80)">
<text x="187.30" y="276.80" font-size="9.7" fill="#111">GABP</text>
<text transform="translate(214.36 276.80) scale(1.1 1)" font-size="9.40" font-family="DejaVu Sans, sans-serif" fill="#111" stroke="none">α</text>
<text x="221.47" y="274.52" font-size="6.70" fill="#111">FL/-</text>
</g>
</svg>
</body></html>
